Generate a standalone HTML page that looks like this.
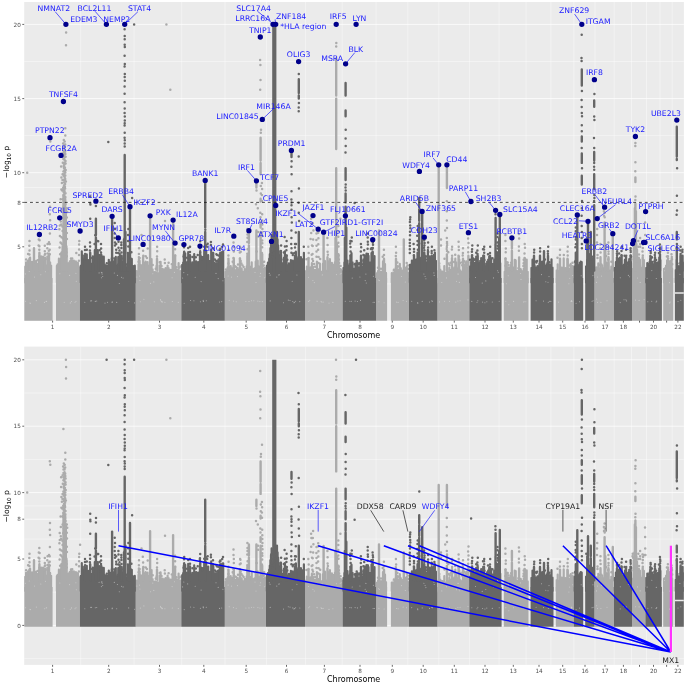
<!DOCTYPE html>
<html><head><meta charset="utf-8"><title>Manhattan plot</title>
<style>
html,body{margin:0;padding:0;background:#fff}
svg{display:block}
text{font-family:"DejaVu Sans","Liberation Sans",sans-serif}
.tk text{font-size:5.7px;fill:#4d4d4d}
.ti{font-size:8px;fill:#000}
.gl text{font-size:7.72px;fill:#1a1aff;text-anchor:middle}
.bl text{font-size:7.72px;text-anchor:middle}
</style></head><body>
<svg width="685" height="685" viewBox="0 0 685 685">
<rect width="685" height="685" fill="#fff"/>
<defs>
<clipPath id="c1"><rect x="24.2" y="2.0" width="659.7" height="318.7"/></clipPath>
<clipPath id="c2"><rect x="24.2" y="346.6" width="659.7" height="318.3"/></clipPath>
</defs>
<rect x="24.2" y="2.0" width="659.7" height="318.7" fill="#ebebeb"/>
<path d="M24.2 283.9H683.9M24.2 224.6H683.9M24.2 187.5H683.9M24.2 135.6H683.9M24.2 61.5H683.9M80.7 2.0V320.7M134.1 2.0V320.7M181.7 2.0V320.7M225 2.0V320.7M266.4 2.0V320.7M305.4 2.0V320.7M342.2 2.0V320.7M376.1 2.0V320.7M407.8 2.0V320.7M438.8 2.0V320.7M469.6 2.0V320.7M499.1 2.0V320.7M526.1 2.0V320.7M550.9 2.0V320.7M573.9 2.0V320.7M595 2.0V320.7M614.2 2.0V320.7M631.5 2.0V320.7M646.5 2.0V320.7M660 2.0V320.7M672.2 2.0V320.7" stroke="#fff" stroke-width=".4" fill="none"/>
<path d="M24.2 246.8H683.9M24.2 202.4H683.9M24.2 172.7H683.9M24.2 98.6H683.9M24.2 24.4H683.9" stroke="#fff" stroke-width=".75" fill="none"/>
<g clip-path="url(#c1)">
<path d="M24.2 322.4V278H52.6V322.4ZM56 322.4V278H79.9V322.4ZM135.7 322.4V278H181.3V322.4ZM224.8 322.4V278H266V322.4ZM305 322.4V278H342.6V322.4ZM376.1 322.4V278H387.1V322.4ZM390.9 322.4V278H409V322.4ZM437.4 322.4V278H469.3V322.4ZM503.8 322.4V278H528.5V322.4ZM555.8 322.4V278H573.8V322.4ZM594.4 322.4V278H614V322.4ZM632 322.4V278H645.4V322.4ZM663.2 322.4V278H673.2V322.4Z" fill="#ababab"/>
<path d="M79.9 322.4V278H135.7V322.4ZM181.3 322.4V278H224.8V322.4ZM266 322.4V278H305V322.4ZM342.6 322.4V278H376.1V322.4ZM409 322.4V278H437.4V322.4ZM469.3 322.4V278H501.6V322.4ZM530.6 322.4V278H553.5V322.4ZM573.8 322.4V278H583.2V322.4ZM585.2 322.4V278H594.4V322.4ZM614 322.4V278H632V322.4ZM645.4 322.4V278H661.9V322.4ZM674.9 322.4V278H683.9V322.4ZM272.2 322.4V24.4H276.4V322.4Z" fill="#666666"/>
<path d="M25.1 282.4V266.7M26.1 282.4V262.3M27.1 282.4V264.7M28.1 282.4V260.6M29.1 282.4V266.2M30.1 282.4V257.5M31.1 282.4V262.7M32.1 282.4V261.8M33.1 282.4V262.7M34.1 282.4V263.8M35.1 282.4V265.8M36.1 282.4V260.9M37.1 282.4V267.3M38.1 282.4V263.5M39.1 282.4V259.6M40.1 282.4V265.7M41.1 282.4V256.4M42.1 282.4V260.3M43.1 282.4V256.5M44.1 282.4V266.6M45.1 282.4V259.4M46.1 282.4V265.4M47.1 282.4V265.6M48.1 282.4V265M49.1 282.4V253.6M50.1 282.4V262.3M51.1 282.4V265.6M56.9 282.4V265.8M57.9 282.4V267.6M58.9 282.4V258.7M59.9 282.4V260.5M60.9 282.4V258.8M61.9 282.4V267M62.9 282.4V264.9M63.9 282.4V265M64.9 282.4V259.5M65.9 282.4V258.9M66.9 282.4V263.1M67.9 282.4V267.1M68.9 282.4V263M69.9 282.4V264.6M70.9 282.4V260.4M71.9 282.4V260.3M72.9 282.4V266.8M73.9 282.4V260.7M74.9 282.4V266.2M75.9 282.4V261.4M76.9 282.4V263.8M77.9 282.4V262.7M78.9 282.4V267M136.6 282.4V271M137.6 282.4V271.5M138.6 282.4V264.5M139.6 282.4V260.9M140.6 282.4V269.5M141.6 282.4V265.6M142.6 282.4V265.5M143.6 282.4V264.9M144.6 282.4V269.7M145.6 282.4V261.5M146.6 282.4V264.8M147.6 282.4V262M148.6 282.4V265.7M149.6 282.4V268.5M150.6 282.4V265.6M151.6 282.4V259.2M152.6 282.4V269.3M153.6 282.4V272M154.6 282.4V272M155.6 282.4V272.3M156.6 282.4V265.9M157.6 282.4V273.1M158.6 282.4V273.5M159.6 282.4V265.5M160.6 282.4V261.8M161.6 282.4V273.1M162.6 282.4V268.9M163.6 282.4V273.2M164.6 282.4V269.4M165.6 282.4V268.2M166.6 282.4V272.3M167.6 282.4V265.5M168.6 282.4V268M169.6 282.4V271M170.6 282.4V269.8M171.6 282.4V270M172.6 282.4V266.3M173.6 282.4V264.8M174.6 282.4V269.5M175.6 282.4V267.6M176.6 282.4V269.9M177.6 282.4V271.7M178.6 282.4V263.2M179.6 282.4V272M180.6 282.4V271M225.7 282.4V271.8M226.7 282.4V270.2M227.7 282.4V267.4M228.7 282.4V266.5M229.7 282.4V274.1M230.7 282.4V266.1M231.7 282.4V272M232.7 282.4V268M233.7 282.4V265.9M234.7 282.4V270.5M235.7 282.4V270.2M236.7 282.4V267.8M237.7 282.4V267.9M238.7 282.4V269.6M239.7 282.4V271.6M240.7 282.4V268.3M241.7 282.4V268.7M242.7 282.4V271.7M243.7 282.4V272.2M244.7 282.4V269.1M245.7 282.4V270.4M246.7 282.4V266.3M247.7 282.4V272.6M248.7 282.4V268.5M249.7 282.4V266.7M250.7 282.4V270.9M251.7 282.4V262.3M252.7 282.4V269.3M253.7 282.4V269.2M254.7 282.4V272.1M255.7 282.4V261.7M256.7 282.4V262.3M257.7 282.4V260.6M258.7 282.4V266.2M259.7 282.4V267.9M260.7 282.4V266.8M261.7 282.4V267M262.7 282.4V271.3M263.7 282.4V268.9M264.7 282.4V267.8M305.9 282.4V271M306.9 282.4V266.5M307.9 282.4V271.5M308.9 282.4V267.5M309.9 282.4V272.8M310.9 282.4V268.4M311.9 282.4V263.2M312.9 282.4V266.5M313.9 282.4V269.9M314.9 282.4V269.9M315.9 282.4V272.8M316.9 282.4V261.6M317.9 282.4V269M318.9 282.4V272.4M319.9 282.4V263.6M320.9 282.4V271.7M321.9 282.4V271.7M322.9 282.4V263.9M323.9 282.4V263.6M324.9 282.4V260.9M325.9 282.4V272.2M326.9 282.4V270.7M327.9 282.4V261.3M328.9 282.4V265.9M329.9 282.4V259.1M330.9 282.4V266.6M331.9 282.4V262.9M332.9 282.4V267.5M333.9 282.4V264.6M334.9 282.4V262.3M335.9 282.4V263M336.9 282.4V269.8M337.9 282.4V269.4M338.9 282.4V265.6M339.9 282.4V268.9M340.9 282.4V269.3M341.9 282.4V271M377 282.4V273.2M378 282.4V271.1M379 282.4V272M380 282.4V275.1M381 282.4V271.6M382 282.4V273.7M383 282.4V261.4M384 282.4V271.9M385 282.4V264.1M386 282.4V272.8M391.8 282.4V273.2M392.8 282.4V273.2M393.8 282.4V269.7M394.8 282.4V270.3M395.8 282.4V268M396.8 282.4V269.9M397.8 282.4V269.5M398.8 282.4V273M399.8 282.4V263.8M400.8 282.4V268.1M401.8 282.4V272.8M402.8 282.4V270.5M403.8 282.4V272.9M404.8 282.4V267.8M405.8 282.4V271.8M406.8 282.4V266.7M407.8 282.4V272.5M438.3 282.4V271M439.3 282.4V265.8M440.3 282.4V269.7M441.3 282.4V271.3M442.3 282.4V271.6M443.3 282.4V272.7M444.3 282.4V266M445.3 282.4V272.8M446.3 282.4V272.9M447.3 282.4V272.2M448.3 282.4V271.7M449.3 282.4V267.8M450.3 282.4V269.9M451.3 282.4V272.3M452.3 282.4V268.4M453.3 282.4V270.9M454.3 282.4V267.3M455.3 282.4V258.7M456.3 282.4V262.4M457.3 282.4V268.3M458.3 282.4V271.2M459.3 282.4V259.6M460.3 282.4V270.4M461.3 282.4V272.5M462.3 282.4V271.5M463.3 282.4V271.8M464.3 282.4V264.8M465.3 282.4V273.8M466.3 282.4V261.3M467.3 282.4V267.5M468.3 282.4V268.3M504.7 282.4V271.8M505.7 282.4V271.6M506.7 282.4V262.1M507.7 282.4V267.6M508.7 282.4V267.3M509.7 282.4V271.2M510.7 282.4V265.1M511.7 282.4V270.1M512.7 282.4V270.2M513.7 282.4V267.4M514.7 282.4V259.8M515.7 282.4V260.4M516.7 282.4V270.9M517.7 282.4V271.8M518.7 282.4V270.7M519.7 282.4V273.7M520.7 282.4V269M521.7 282.4V273.4M522.7 282.4V271.2M523.7 282.4V268.8M524.7 282.4V260.3M525.7 282.4V262.5M526.7 282.4V259.5M527.7 282.4V271.8M556.7 282.4V270.3M557.7 282.4V264.4M558.7 282.4V271.4M559.7 282.4V270.9M560.7 282.4V271.5M561.7 282.4V267.6M562.7 282.4V268.2M563.7 282.4V258.4M564.7 282.4V268.3M565.7 282.4V268.2M566.7 282.4V268.7M567.7 282.4V259.7M568.7 282.4V272.1M569.7 282.4V268.6M570.7 282.4V263.9M571.7 282.4V270.4M572.7 282.4V266M595.3 282.4V270.3M596.3 282.4V267.3M597.3 282.4V267.6M598.3 282.4V263.3M599.3 282.4V268.6M600.3 282.4V268.3M601.3 282.4V269.5M602.3 282.4V265.7M603.3 282.4V268.1M604.3 282.4V270.5M605.3 282.4V262.1M606.3 282.4V262.9M607.3 282.4V271.4M608.3 282.4V262.7M609.3 282.4V272.9M610.3 282.4V270.4M611.3 282.4V266.7M612.3 282.4V270M632.9 282.4V268.8M633.9 282.4V263.4M634.9 282.4V265M635.9 282.4V268.5M636.9 282.4V266.4M637.9 282.4V265M638.9 282.4V257.7M639.9 282.4V259.7M640.9 282.4V267.5M641.9 282.4V268.9M642.9 282.4V265M643.9 282.4V260.1M664.1 282.4V268.8M665.1 282.4V268.1M666.1 282.4V265.5M667.1 282.4V260.4M668.1 282.4V270.1M669.1 282.4V271.4M670.1 282.4V261.2M671.1 282.4V263.4M672.1 282.4V268.7" stroke="#ababab" stroke-width="2.2" stroke-linecap="round" fill="none"/>
<path d="M39.4 270.6V252.8M29.4 270.6V258.7M44.8 270.6V258.7M34 258.7V248.3M34 270.6V258.7M47.5 270.6V257.2M63.5 270.6V195M64.3 270.6V197.2M65.1 270.6V197.8M65.8 270.6V208.7M62.6 270.6V246.8M61.4 270.6V252.8M66.6 270.6V248.3M143.1 270.6V257.2M150.1 225.3V215.9M150.1 229.1V225.3M150.1 270.6V229.1M173.1 233.5V220.2M173.1 270.6V233.5M175.1 270.6V255.7M157 270.6V258.7M139 270.6V258.7M233.8 270.6V258.7M248.9 243V230.7M248.9 249.8V245.4M248.9 270.6V249.8M247.4 270.6V255.7M256.4 187.5V180.7M256.4 243.9V230.5M256.4 270.6V243.9M260.6 160.6V137.8M260.6 174.2V163M260.6 201.6V198.7M260.6 227.6V222.4M260.6 243.7V232M260.6 243.9V243.7M260.6 270.6V243.9M262.2 270.6V254.3M240 270.6V258.7M228.5 270.6V260.2M323.6 246.8V232.2M323.6 270.6V246.8M327.5 270.6V257.2M336.2 95.6V58.5M336.2 112.4V98.6M336.2 130.5V112.4M336.2 149V130.5M336.2 183.9V168.3M336.2 192.6V183.9M336.2 202.4V192.6M336.2 270.6V199.4M335.5 270.6V238M336.9 270.6V243.9M338.4 270.6V254.3M308.5 270.6V258.7M379 242.4V230.5M379 270.6V242.4M403.8 249.8V239.4M403.8 270.6V249.8M396 270.6V258.7M384 270.6V258.7M438.7 270.6V164.1M446.9 188V164.1M446.9 270.6V255.7M458.6 270.6V257.2M468.4 270.6V255.7M452 270.6V258.7M463 270.6V258.7M505.5 270.6V258.7M511.9 248.3V237.8M511.9 252.8V250.7M511.9 270.6V252.8M519.1 270.6V258.7M524.8 270.6V258.7M567.5 270.6V258.7M560 270.6V258.7M604.6 232V222.4M604.6 270.6V232M605.3 270.6V243.9M612.8 242.4V233.5M612.8 270.6V242.4M608.5 270.6V257.2M600.5 270.6V257.2M635.4 182V177.4M635.4 270.6V203.8M634.9 270.6V208.3M635.9 270.6V211.3M634.4 270.6V239.4M636.4 270.6V243.9M633.8 270.6V248.3M637 270.6V249.8M642.7 270.6V257.2M668 270.6V260.2M671.5 270.6V260.2" stroke="#ababab" stroke-width="2.4" stroke-linecap="round" fill="none"/>
<path d="M26.1 259.4h.01M26.9 262.9h.01M28.1 253.9h.01M35.3 261.9h.01M37.7 260.3h.01M39.4 256.6h.01M44.6 259.6h.01M45.1 254h.01M47.3 258.9h.01M48.8 250.7h.01M49 242.3h.01M57.7 264.6h.01M64.7 253.4h.01M69.9 261.4h.01M71 258.4h.01M72.2 258.4h.01M76.3 252.9h.01M78.9 260.7h.01M138.6 261.8h.01M139.6 257.9h.01M140.6 265.2h.01M144.4 262.9h.01M145.7 256.3h.01M146.9 258h.01M147.7 248.4h.01M152.7 264.9h.01M155.8 268.8h.01M159.7 262.3h.01M161.5 266h.01M164.9 263h.01M164.7 259.5h.01M168.6 262.7h.01M171.8 264.2h.01M176.5 267.2h.01M179.3 267.4h.01M180.7 266.6h.01M226 269.4h.01M228.4 263.6h.01M232.7 261.7h.01M233.6 262.6h.01M235 266.3h.01M235.8 266.8h.01M238 264.4h.01M240.6 260.9h.01M240.7 251.8h.01M240.4 247.6h.01M241.4 263.6h.01M242.4 265.3h.01M243.6 266.9h.01M254.6 268.5h.01M256.6 251.4h.01M262.2 267h.01M262.6 262.2h.01M263.7 265.5h.01M264.1 261.8h.01M306.5 259.2h.01M310.5 267.5h.01M312.4 258.9h.01M313 260.9h.01M314.1 264h.01M315.1 266.8h.01M318.4 263.1h.01M320.2 258.9h.01M327.9 254.7h.01M332.5 265h.01M336.3 259.3h.01M339.1 263h.01M338.8 259.5h.01M338.6 255.5h.01M340.6 266.1h.01M378 267.7h.01M378.9 267.9h.01M380.1 272.2h.01M381 268.7h.01M382.7 256.8h.01M396.9 267.7h.01M398 266.6h.01M397.7 266.2h.01M397.4 262.6h.01M404.3 267.4h.01M406.7 263h.01M407.6 265.2h.01M408 269h.01M439.3 263.6h.01M444.5 258.7h.01M447 269.4h.01M448.4 263.5h.01M448.3 252.3h.01M449.7 265.3h.01M450.7 262.8h.01M454.1 261.9h.01M455.2 254.7h.01M458.8 267.4h.01M458.9 256.4h.01M460.3 263h.01M462.2 265.3h.01M462.5 261.9h.01M464.1 261.2h.01M465.5 268.3h.01M465.5 263h.01M467.6 265.1h.01M468.1 262.2h.01M505.5 265.7h.01M507.7 262.4h.01M508.5 265h.01M511.1 262.8h.01M518.4 268.3h.01M520.3 270.1h.01M523.4 266.1h.01M523.6 263.3h.01M523.7 259.8h.01M557.5 257.7h.01M563.8 255h.01M569.2 265.5h.01M572.5 262.8h.01M597.5 258h.01M597.5 255.1h.01M599.6 265h.01M601.4 264.5h.01M606.2 256.1h.01M607 264.8h.01M608.1 259.4h.01M608.3 259.2h.01M611.4 261.7h.01M633.6 259.3h.01M636.7 261.3h.01M637.8 261h.01M639 254.6h.01M666.9 256.5h.01M672.2 264.2h.01M672 259.3h.01M27.2 172.7h.01M65.9 24.4h.01M66.1 32.4h.01M66 45.2h.01M39.3 234.5h.01M39.6 240.2h.01M39.4 246.3h.01M39.3 249.7h.01M38.8 239.4h.01M38.6 245.4h.01M29.5 240.9h.01M29.3 245.7h.01M29.5 250.5h.01M29.4 254.5h.01M44.8 245.8h.01M44.8 251.2h.01M44.8 254.8h.01M44.9 257.8h.01M47.6 243.9h.01M47.3 248.2h.01M47.6 253.5h.01M47.6 256.6h.01M49.8 137.7h.01M50.3 141.6h.01M50 206.8h.01M49.8 214.2h.01M50.1 220.2h.01M49.9 233.5h.01M49.7 243.9h.01M49.7 249.8h.01M49.8 254.3h.01M63.4 101.5h.01M65.3 128.2h.01M65.3 135.6h.01M63.8 140.1h.01M63.1 143.5h.01M63.5 146.9h.01M63.5 150.8h.01M63.6 152.5h.01M63.6 155.7h.01M63.4 159h.01M63.8 163.2h.01M63.8 165.5h.01M64 168h.01M63.4 171.6h.01M63.7 175.8h.01M63.9 179.8h.01M64 182.2h.01M64 185.5h.01M63.2 187.4h.01M63.3 189.5h.01M63.7 192.3h.01M63.6 195.4h.01M62.9 199.6h.01M64.4 203.2h.01M63.7 206.8h.01M64.2 210.7h.01M63.7 212.9h.01M63.9 217h.01M64.7 141.6h.01M64.5 145.1h.01M64.3 146.6h.01M64.5 150h.01M65 152.9h.01M64.1 155.3h.01M64.3 157.7h.01M64.5 159.8h.01M64.6 162.6h.01M64.5 164.6h.01M63.8 166.8h.01M64.6 169.6h.01M64.1 171.1h.01M64.4 173.9h.01M64.7 177.5h.01M64.6 180h.01M64.9 181.5h.01M64.5 185h.01M64.9 186.7h.01M64.2 189.8h.01M64.6 191.3h.01M64.4 193.6h.01M64.4 195.2h.01M64.8 197.5h.01M65.1 200.9h.01M65.5 204.3h.01M64.6 207.1h.01M63.7 210h.01M64.6 212h.01M64.1 215.1h.01M65.2 144.5h.01M64.5 146.9h.01M65.2 151.3h.01M65.3 154.1h.01M65.6 156.8h.01M65.5 161h.01M65.6 163.5h.01M64.9 167.5h.01M65.7 169.9h.01M65.3 172.5h.01M65.3 175.5h.01M65.2 179.1h.01M65.9 181.5h.01M65.1 184.1h.01M65.1 188.6h.01M65.5 193.3h.01M65.3 197h.01M65 199.9h.01M65.4 204.1h.01M65.1 207.3h.01M65.6 211h.01M64.9 213.6h.01M65.3 216.1h.01M62.6 153.4h.01M62.8 162.7h.01M62.6 174.3h.01M62.5 180h.01M62.2 190.5h.01M62.8 199.2h.01M62.6 208.2h.01M63.1 218h.01M62.4 226.5h.01M62.6 231.1h.01M62.8 238.2h.01M62.4 244.5h.01M61.1 155.5h.01M61.1 166.4h.01M61.4 177.5h.01M61.9 182.9h.01M61.4 189.6h.01M60.6 199.3h.01M60.8 211.1h.01M61.2 224.6h.01M61.5 237.3h.01M61.3 243.2h.01M61.5 254h.01M59.7 217.8h.01M60.8 221.5h.01M59.8 225.5h.01M59.4 229.2h.01M59.9 236.1h.01M60.5 242.5h.01M59.6 247.6h.01M60.1 254.3h.01M66.8 208.3h.01M67.2 212h.01M66.8 217.5h.01M67 224h.01M66.8 233.1h.01M66.9 238.9h.01M66.4 246.5h.01M66.4 252.6h.01M66.8 256.3h.01M80.1 231h.01M79.3 240.9h.01M79.1 244.5h.01M79.1 249.4h.01M79 255h.01M142.8 244.3h.01M143.1 250.7h.01M143.3 255.7h.01M141.5 235h.01M165 220.9h.01M166.4 24.4h.01M170.3 89.7h.01M175.1 243.1h.01M175.1 249.3h.01M175.2 255.5h.01M157.1 246.8h.01M157.2 251.3h.01M157 256.5h.01M139 248.3h.01M138.9 253.9h.01M138.9 257.3h.01M233.5 236.2h.01M233.5 242.4h.01M233.8 247h.01M233.8 251.4h.01M233.5 257.9h.01M247.4 229.1h.01M247.5 234.4h.01M247.5 237.8h.01M247.3 241.9h.01M247.6 249.3h.01M247.3 253.8h.01M256 204.3h.01M256.5 190.5h.01M257.8 208.3h.01M258 232h.01M258.1 236.5h.01M260.2 37h.01M260.1 60h.01M260.4 65h.01M260.5 80h.01M260.2 89.7h.01M262 119.3h.01M261 129.7h.01M260.8 132.7h.01M260.8 186h.01M260.8 193.5h.01M260.3 212.7h.01M260.5 217.2h.01M261.9 183.1h.01M262.1 189h.01M261.9 194.9h.01M262 200.9h.01M262.2 214.2h.01M262.3 220.4h.01M262.3 224.4h.01M262.4 229h.01M262.1 232.4h.01M262.5 236h.01M262.2 240.4h.01M262.3 243.2h.01M262.2 247.3h.01M261.9 253.1h.01M240.1 246.8h.01M239.8 252.6h.01M239.9 258.4h.01M228.6 249.8h.01M228.4 255.4h.01M228.4 258.8h.01M313.1 215.7h.01M312.8 223.3h.01M313.4 230.5h.01M313.1 239.5h.01M312.7 246h.01M312.5 253.9h.01M311.1 218.7h.01M311.4 223.5h.01M311.2 233.1h.01M310.6 239h.01M312 245.5h.01M311.7 254.8h.01M318.2 229.2h.01M318.2 232.7h.01M318.4 238.2h.01M318.3 244.2h.01M318.1 249.8h.01M318.6 257.1h.01M316.5 233.5h.01M316.4 240.1h.01M316.5 245.7h.01M316.5 251.4h.01M316.5 256.8h.01M327.4 238h.01M327.6 245h.01M327.6 251.7h.01M336 24.4h.01M336.3 42.9h.01M336.2 46.6h.01M340.4 218.7h.01M338.3 226.1h.01M338.3 231.2h.01M338.3 236.8h.01M338.3 242.8h.01M338.5 246.6h.01M308.3 246.8h.01M308.7 253.1h.01M308.5 258.1h.01M395.9 246.8h.01M396.1 252.8h.01M395.8 256h.01M383.9 249.8h.01M384 255h.01M446.8 201.2h.01M446.8 211.3h.01M446.8 220.6h.01M447 227.9h.01M446.8 238h.01M447 241.9h.01M447 243.6h.01M447.1 245.3h.01M446.8 247.1h.01M446.7 249.1h.01M447 251h.01M446.9 254.5h.01M445.2 230.5h.01M441 239.4h.01M441 245.4h.01M458.6 241.7h.01M458.7 246.8h.01M458.8 250h.01M458.5 255.7h.01M468.5 232.8h.01M468.1 238.4h.01M468.5 242.9h.01M468.2 247.5h.01M468.2 252.2h.01M452.1 246.8h.01M451.9 249.6h.01M452.1 255.8h.01M452 258.3h.01M463 248.3h.01M462.9 253h.01M462.7 255.5h.01M505.4 235h.01M505.4 241.1h.01M505.8 248.4h.01M505.7 252.2h.01M505.5 258.6h.01M518.9 233.9h.01M519.1 238.5h.01M518.9 246.6h.01M518.9 250.7h.01M519.1 257.6h.01M524.7 243.9h.01M525 247.8h.01M524.5 253.5h.01M524.6 258.1h.01M567.8 246.8h.01M567.5 251.5h.01M567.7 255.4h.01M560 249.8h.01M559.9 255.1h.01M597.2 218.7h.01M597.2 229.1h.01M597 235h.01M597 242.4h.01M604.6 207.3h.01M604.7 212.7h.01M604.7 217.2h.01M603.9 211.3h.01M604 215.7h.01M608.4 242.4h.01M608.5 247h.01M608.5 251.4h.01M608.5 254h.01M600.5 243.9h.01M600.3 248.5h.01M600.6 252.6h.01M635.6 136.5h.01M635.4 143h.01M635.3 146h.01M635.4 162.3h.01M635.3 171.2h.01M635.5 196.4h.01M635.3 200.1h.01M632.7 240.9h.01M633 245.4h.01M632.5 243.9h.01M645 211.6h.01M645.1 222.4h.01M645.2 235h.01M645.4 242.4h.01M642.5 241.7h.01M643 244.6h.01M642.8 247.9h.01M642.5 251.4h.01M642.8 255.5h.01M644 242.4h.01M640.1 238h.01M640.1 243.9h.01M640.2 246.8h.01M638.3 240.9h.01M638.3 246.8h.01M667.9 252.8h.01M667.9 256.3h.01M668.1 258.5h.01M671.5 254.3h.01M671.8 256.9h.01M671.7 258.5h.01" stroke="#ababab" stroke-width="2.5" stroke-linecap="round" fill="none"/>
<path d="M80.8 282.4V265.7M81.8 282.4V251.3M82.8 282.4V255.3M83.8 282.4V259.3M84.8 282.4V265.7M85.8 282.4V266.2M86.8 282.4V254.4M87.8 282.4V262.4M88.8 282.4V260M89.8 282.4V265.3M90.8 282.4V265.2M91.8 282.4V263.5M92.8 282.4V256.4M93.8 282.4V265.6M94.8 282.4V250.2M95.8 282.4V260M96.8 282.4V250.2M97.8 282.4V250.2M98.8 282.4V261.4M99.8 282.4V254.8M100.8 282.4V265.4M101.8 282.4V256.2M102.8 282.4V258.2M103.8 282.4V256.7M104.8 282.4V264.7M105.8 282.4V265.7M106.8 282.4V265.7M107.8 282.4V266M108.8 282.4V259.8M109.8 282.4V262M110.8 282.4V264.8M111.8 282.4V258.2M112.8 282.4V262.7M113.8 282.4V261.4M114.8 282.4V258.2M115.8 282.4V256.9M116.8 282.4V266.2M117.8 282.4V267.4M118.8 282.4V256.8M119.8 282.4V253.7M120.8 282.4V255.9M121.8 282.4V264.2M122.8 282.4V261.8M123.8 282.4V265.1M124.8 282.4V252.8M125.8 282.4V266.3M126.8 282.4V267.9M127.8 282.4V267.8M128.8 282.4V259.7M129.8 282.4V266.4M130.8 282.4V267.2M131.8 282.4V258.9M132.8 282.4V265.9M133.8 282.4V268.6M134.8 282.4V265.7M182.2 282.4V264.9M183.2 282.4V262.7M184.2 282.4V251.6M185.2 282.4V253.3M186.2 282.4V262.8M187.2 282.4V262M188.2 282.4V252.2M189.2 282.4V262.6M190.2 282.4V266.3M191.2 282.4V264.4M192.2 282.4V262.3M193.2 282.4V265M194.2 282.4V254M195.2 282.4V264.6M196.2 282.4V261.4M197.2 282.4V264.6M198.2 282.4V262.1M199.2 282.4V264M200.2 282.4V251.1M201.2 282.4V256.4M202.2 282.4V264.1M203.2 282.4V256.8M204.2 282.4V250.2M205.2 282.4V265.3M206.2 282.4V250.6M207.2 282.4V257.9M208.2 282.4V255.2M209.2 282.4V260.9M210.2 282.4V264.3M211.2 282.4V249.5M212.2 282.4V262.2M213.2 282.4V252.8M214.2 282.4V262.8M215.2 282.4V264.4M216.2 282.4V263M217.2 282.4V265.1M218.2 282.4V261.5M219.2 282.4V261.2M220.2 282.4V252.7M221.2 282.4V266.4M222.2 282.4V251.8M223.2 282.4V251.6M266.9 282.4V265.7M267.9 282.4V262.7M268.9 282.4V267.2M269.9 282.4V262.8M270.9 282.4V259.3M271.9 282.4V262.1M272.9 282.4V252.8M273.9 282.4V262M274.9 282.4V252M275.9 282.4V266.7M276.9 282.4V258M277.9 282.4V260.9M278.9 282.4V255M279.9 282.4V259.5M280.9 282.4V251.2M281.9 282.4V263.2M282.9 282.4V266M283.9 282.4V257.7M284.9 282.4V251.3M285.9 282.4V256.6M286.9 282.4V266.5M287.9 282.4V265.2M288.9 282.4V263.3M289.9 282.4V263.6M290.9 282.4V260M291.9 282.4V268.1M292.9 282.4V260.6M293.9 282.4V267.5M294.9 282.4V266.9M295.9 282.4V251.7M296.9 282.4V259.8M297.9 282.4V265.3M298.9 282.4V264.7M299.9 282.4V262.2M300.9 282.4V257.1M301.9 282.4V261.7M302.9 282.4V259.2M303.9 282.4V252.8M343.5 282.4V267.9M344.5 282.4V262.5M345.5 282.4V263M346.5 282.4V263.3M347.5 282.4V260.5M348.5 282.4V265.6M349.5 282.4V267.3M350.5 282.4V260M351.5 282.4V253.2M352.5 282.4V262.3M353.5 282.4V269.3M354.5 282.4V268.6M355.5 282.4V263.4M356.5 282.4V263.3M357.5 282.4V262.7M358.5 282.4V267.6M359.5 282.4V267.3M360.5 282.4V264.4M361.5 282.4V266.9M362.5 282.4V268.1M363.5 282.4V259.3M364.5 282.4V255.4M365.5 282.4V264.3M366.5 282.4V253.5M367.5 282.4V261.5M368.5 282.4V255.8M369.5 282.4V266M370.5 282.4V262.4M371.5 282.4V253.1M372.5 282.4V259M373.5 282.4V259.9M374.5 282.4V256M409.9 282.4V264.9M410.9 282.4V264.5M411.9 282.4V260.6M412.9 282.4V264.2M413.9 282.4V259.4M414.9 282.4V263.1M415.9 282.4V259.5M416.9 282.4V259.4M417.9 282.4V257.9M418.9 282.4V250.7M419.9 282.4V257.5M420.9 282.4V259.6M421.9 282.4V262.8M422.9 282.4V253.7M423.9 282.4V254.2M424.9 282.4V255.5M425.9 282.4V262.1M426.9 282.4V262.2M427.9 282.4V249.9M428.9 282.4V259.6M429.9 282.4V256.4M430.9 282.4V257.7M431.9 282.4V261.3M432.9 282.4V266.5M433.9 282.4V254.9M434.9 282.4V252.6M435.9 282.4V260.8M470.2 282.4V266.4M471.2 282.4V261.8M472.2 282.4V265.7M473.2 282.4V258.3M474.2 282.4V264.3M475.2 282.4V262.8M476.2 282.4V256.6M477.2 282.4V261.3M478.2 282.4V265.2M479.2 282.4V263M480.2 282.4V260.8M481.2 282.4V258.2M482.2 282.4V265.6M483.2 282.4V255.6M484.2 282.4V266.1M485.2 282.4V267.1M486.2 282.4V263.5M487.2 282.4V261.6M488.2 282.4V259.5M489.2 282.4V256.5M490.2 282.4V259.8M491.2 282.4V258.3M492.2 282.4V263.9M493.2 282.4V265M494.2 282.4V259.7M495.2 282.4V259.9M496.2 282.4V255.2M497.2 282.4V259.8M498.2 282.4V263.5M499.2 282.4V258.7M500.2 282.4V263.2M531.5 282.4V267.9M532.5 282.4V259.7M533.5 282.4V265.4M534.5 282.4V265.3M535.5 282.4V267.3M536.5 282.4V268.3M537.5 282.4V266.1M538.5 282.4V266M539.5 282.4V263.7M540.5 282.4V261.6M541.5 282.4V268.2M542.5 282.4V261.6M543.5 282.4V265.4M544.5 282.4V266.3M545.5 282.4V265.8M546.5 282.4V264.3M547.5 282.4V262.7M548.5 282.4V267.1M549.5 282.4V265M550.5 282.4V264.7M551.5 282.4V259.3M552.5 282.4V267.6M574.7 282.4V266.4M575.7 282.4V260.7M576.7 282.4V265.2M577.7 282.4V265.5M578.7 282.4V265M579.7 282.4V262.9M580.7 282.4V261.6M581.7 282.4V262M586.1 282.4V266.4M587.1 282.4V260M588.1 282.4V261.9M589.1 282.4V254.1M590.1 282.4V265.2M591.1 282.4V266.6M592.1 282.4V258.9M593.1 282.4V262.2M614.9 282.4V267.9M615.9 282.4V262.1M616.9 282.4V262.8M617.9 282.4V259.7M618.9 282.4V258.6M619.9 282.4V257.7M620.9 282.4V263.6M621.9 282.4V265.7M622.9 282.4V266.9M623.9 282.4V264.5M624.9 282.4V259.9M625.9 282.4V265.6M626.9 282.4V266.2M627.9 282.4V266.2M628.9 282.4V261.2M629.9 282.4V263.8M630.9 282.4V262.1M646.3 282.4V267.9M647.3 282.4V263M648.3 282.4V266.4M649.3 282.4V265.8M650.3 282.4V259.3M651.3 282.4V263.3M652.3 282.4V261.9M653.3 282.4V264M654.3 282.4V265M655.3 282.4V262.8M656.3 282.4V263M657.3 282.4V262.7M658.3 282.4V266.1M659.3 282.4V257.5M660.3 282.4V260.1M675.8 282.4V270.1M676.8 282.4V259.8M677.8 282.4V266.1M678.8 282.4V269.4M679.8 282.4V266.7M680.8 282.4V265.1M681.8 282.4V266.7M682.8 282.4V262.6" stroke="#666666" stroke-width="2.2" stroke-linecap="round" fill="none"/>
<path d="M90.2 270.6V252.8M95.9 235.1V218.7M95.9 243.9V237.5M95.9 270.6V243.9M112.1 227.6V216.3M112.1 270.6V227.6M118.4 270.6V257.2M124.7 163.9V154.9M124.7 166.8V163.9M124.7 270.6V165.3M125.4 270.6V232M124 270.6V239.4M130 217.2V206.5M130 270.6V217.2M128.2 270.6V254.3M101 270.6V255.7M85 270.6V257.2M121.5 270.6V255.7M183.9 270.6V254.3M200 270.6V254.3M205.2 227.6V180.7M205.2 270.6V232M190 270.6V255.7M213 270.6V255.7M220 270.6V257.2M271.7 272.1V235M276.9 272.1V232M271.1 272.1V242.4M277.5 272.1V239.4M270.5 272.1V248.3M278.1 272.1V245.4M269.9 272.1V254.3M278.7 272.1V251.3M269.3 272.1V258.7M279.3 272.1V257.2M291.5 157.1V149.7M298.8 93.1V79.3M298.8 98.6V95.4M298.8 252.8V232M298.8 270.6V252.8M286.5 270.6V255.7M281 270.6V255.7M295 270.6V255.7M345.6 95.6V83M345.6 116.3V110.4M345.6 180.1V168.3M345.6 202.4V193.5M345.6 215.2V206.8M345.6 220.2V217.5M345.6 270.6V217.2M346.3 270.6V227.6M344.9 270.6V238M367.8 270.6V254.3M372.7 270.6V252.8M350.5 270.6V255.7M361 270.6V255.7M419.2 206.9V197.9M419.2 220.8V209.3M419.2 224.6V223.2M419.2 270.6V224.6M422.2 221.3V211.4M422.2 235V221.3M422.2 270.6V235M424.3 270.6V252.8M417.6 270.6V252.8M431.8 270.6V255.7M428 270.6V255.7M414 270.6V255.7M472 270.6V255.7M477.7 270.6V255.7M484 270.6V255.7M490 270.6V255.7M495.6 235.7V217.9M495.6 243.9V235.7M495.5 246.8V243.9M495.5 270.6V246.8M499.8 231.6V214.5M499.8 232V231.6M499.8 270.6V232M499.2 270.6V238M497.5 270.6V252.8M540 270.6V255.7M548 270.6V255.7M534 270.6V255.7M544 255.7V251.3M544 270.6V255.7M577.3 227.6V214.8M577.3 270.6V227.6M575.8 270.6V252.8M581.8 77.2V69.5M581.8 85.6V77.2M581.8 141.6V136.5M581.8 162.9V153.4M581.8 184.6V175.7M588 238V221.3M588 270.6V238M587.3 270.6V243.9M594.2 106.7V100.5M594.2 160.5V151.9M594.2 163.1V162.8M594.2 189V174.2M594.2 223.3V205.3M594.2 232V223.3M594.2 270.6V229.1M590.8 243.5V232M590.8 249.8V245.8M590.8 270.6V249.8M621.6 270.6V255.7M630.6 270.6V255.7M617 270.6V257.2M626 270.6V257.2M660 270.6V254.3M655 270.6V257.2M650.5 270.6V257.2M676.8 134.4V126.7M676.8 156.5V134.4M676.8 160.1V158.9M676.8 239.4V232M676.8 254.3V246.8M676.8 270.6V254.3M680.5 270.6V255.7M682.6 270.6V255.7" stroke="#666666" stroke-width="2.4" stroke-linecap="round" fill="none"/>
<path d="M84.7 259.7h.01M86.8 249.7h.01M90.8 257.9h.01M94.3 263.1h.01M94.6 244h.01M95.2 235.2h.01M97.1 241.1h.01M98.2 241.2h.01M99.6 250.2h.01M100.5 260.9h.01M106.8 263.3h.01M112.6 258.3h.01M117.8 264.7h.01M119.5 250.5h.01M121.7 258.4h.01M125.1 245.5h.01M124.7 238.5h.01M126.6 264.4h.01M130.7 261.4h.01M130.7 258.7h.01M131.4 252.2h.01M183.6 256.6h.01M187.1 257.8h.01M188.2 248h.01M190 263.9h.01M192.4 257.1h.01M195.8 257.3h.01M197.7 255h.01M199.8 246.7h.01M200.2 241.2h.01M202.2 259.1h.01M204.2 246.7h.01M205.7 244.9h.01M207.2 246.7h.01M207.7 243.8h.01M210.9 242.1h.01M210.9 244.9h.01M214.9 259.6h.01M216 260.8h.01M216.4 254.2h.01M217.4 260.7h.01M217.2 255.1h.01M218.6 259.6h.01M219.2 255.8h.01M220.4 249h.01M220.3 248.7h.01M222.2 246.8h.01M223 244.5h.01M272.4 256.4h.01M273.9 258h.01M274.9 246h.01M281.4 259.6h.01M283.8 252.6h.01M284.9 246.6h.01M284.6 236.9h.01M287.3 259.7h.01M293.1 253.4h.01M292.8 254.9h.01M296 243.9h.01M295.8 232.6h.01M296.6 257.2h.01M297.6 258.8h.01M345.2 256.7h.01M349.6 264.3h.01M351.6 241.3h.01M351.8 237.5h.01M354.5 264.2h.01M356.7 260.9h.01M359 264.1h.01M359.3 263.2h.01M361.5 260.8h.01M363.1 264.2h.01M363.4 255h.01M364.2 250.2h.01M370.9 249.1h.01M371.4 248.3h.01M372.5 252.5h.01M372.5 252.3h.01M372.4 249h.01M419.2 243.5h.01M418.9 242.8h.01M427.1 259.4h.01M426.8 256.4h.01M434.4 250.3h.01M470 259.8h.01M472 259.1h.01M474.2 259.8h.01M475.5 259.2h.01M476.2 252.7h.01M483 249.3h.01M484.4 260h.01M488 254.2h.01M492.5 258.2h.01M496.4 251.9h.01M497.5 256.5h.01M498.6 257.4h.01M497.8 258.5h.01M499 251.8h.01M534.7 261.3h.01M536.4 262.6h.01M537.1 261h.01M544.9 259.6h.01M548.4 263.8h.01M549.4 262.2h.01M575 261.7h.01M590 259.7h.01M592.3 256.8h.01M619.1 253.4h.01M624.6 255.7h.01M627 264.4h.01M627.8 262.7h.01M629.3 259.3h.01M631.1 256.8h.01M648.2 264.2h.01M649.6 262.2h.01M651.5 258.1h.01M651.9 257.3h.01M654.3 261.5h.01M656.1 260h.01M658.6 262.6h.01M658.9 252.9h.01M677.4 263.6h.01M678.8 266.6h.01M680.6 263.1h.01M90.2 196.4h.01M90.3 203.1h.01M90.4 204.6h.01M90.2 218.7h.01M90 242.4h.01M90.1 246.6h.01M89.9 250.5h.01M96 201.2h.01M95.9 206.1h.01M106.6 24.4h.01M108.3 142h.01M118.4 238h.01M118.5 241.8h.01M118.5 247.7h.01M118.3 253.1h.01M116.2 243.9h.01M116.2 249.8h.01M116.2 252.8h.01M114.7 223.1h.01M115 229.1h.01M114.7 233.5h.01M114.7 238h.01M115 242.4h.01M115 245.4h.01M124.7 24.4h.01M124.6 29.3h.01M124.7 36h.01M124.7 39.2h.01M124.7 44.7h.01M124.8 47.1h.01M124.6 55.8h.01M124.8 64h.01M124.6 66.5h.01M124.8 73.9h.01M124.7 76.9h.01M124.8 80.8h.01M124.6 86.4h.01M124.6 93.8h.01M124.6 102.3h.01M124.7 108.5h.01M124.6 112.9h.01M124.8 116.6h.01M124.8 120.4h.01M124.7 123.3h.01M124.6 125.4h.01M124.7 132.8h.01M124.6 137.7h.01M124.8 140.2h.01M124.7 143.5h.01M124.7 146.5h.01M132.1 197.9h.01M134.1 24.4h.01M128.4 229.1h.01M128.1 234.9h.01M128.1 241h.01M128.3 246.6h.01M127.9 253h.01M101 243.9h.01M101.1 248.4h.01M101 252.5h.01M101.2 254.7h.01M85 246.8h.01M85 250.1h.01M85.1 253.9h.01M85 255.9h.01M121.3 242.4h.01M121.3 245h.01M121.4 248h.01M121.5 252.4h.01M184.2 244.6h.01M184 247.2h.01M184.1 252.3h.01M200 246.1h.01M200 248.2h.01M200.1 252.6h.01M205.3 229.8h.01M190 246.8h.01M190 252.1h.01M189.9 255.2h.01M213 248.3h.01M213 253.8h.01M219.7 249.8h.01M219.8 254.5h.01M271.6 241.4h.01M271.5 246.8h.01M271.6 251.3h.01M291.6 161.3h.01M291.4 166.8h.01M291.6 174.2h.01M291.5 191.2h.01M291.4 199.4h.01M291.5 202.4h.01M291.5 205.3h.01M291.5 209.8h.01M291.6 217.2h.01M291.8 222.4h.01M291.4 230.5h.01M291.4 238h.01M291.2 243.9h.01M291.5 248.3h.01M291.4 252.8h.01M298.5 61.5h.01M298.8 74.1h.01M298.9 103h.01M298.7 107.4h.01M298.7 111.2h.01M298.7 156.4h.01M298.9 188.6h.01M298.6 202.7h.01M298.8 212.7h.01M299.1 220.9h.01M303.8 246.8h.01M286.6 240.9h.01M286.7 246.2h.01M286.4 250.3h.01M286.7 255.6h.01M281.1 245.4h.01M280.8 251.1h.01M281 255.1h.01M295 243.9h.01M295 247.5h.01M294.7 253.1h.01M345.4 63.7h.01M345.7 129.7h.01M345.6 138.6h.01M345.7 146h.01M345.5 152.5h.01M345.7 184.6h.01M345.5 187.5h.01M345.7 190.5h.01M354.6 203h.01M356 24.4h.01M367.7 233.5h.01M367.7 237.4h.01M367.8 241.7h.01M367.9 244.4h.01M367.6 248.8h.01M367.8 254h.01M372.6 239.7h.01M372.8 242.6h.01M373 244.8h.01M372.8 248h.01M372.6 251.7h.01M350.4 240.9h.01M350.1 243.4h.01M350.5 246.9h.01M350.6 251.4h.01M350.6 255.5h.01M360.9 243.9h.01M361.2 247.3h.01M360.8 251.4h.01M410.3 217.2h.01M410.1 219.4h.01M409.9 222.1h.01M410.2 225.6h.01M410.3 228.3h.01M410 231.7h.01M410 235.3h.01M409.8 239.8h.01M409.8 243.1h.01M409.8 246.1h.01M409.8 249.3h.01M409.8 252.9h.01M419.3 171.4h.01M424.1 237.2h.01M424.2 240.2h.01M424.6 243h.01M424.4 245.5h.01M424 247.8h.01M424.4 250.3h.01M417.7 226.1h.01M417.5 230h.01M417.2 235.7h.01M417.5 240.9h.01M417.6 244.9h.01M417.9 249.7h.01M431.9 246.8h.01M431.7 251.1h.01M431.7 252.9h.01M428.1 242.4h.01M428.1 247.4h.01M428.2 252.1h.01M413.6 243.9h.01M414 249h.01M414 251.7h.01M413.9 255.2h.01M471.1 201.5h.01M472.3 245.4h.01M472.1 249.2h.01M471.9 251.7h.01M472.1 255.2h.01M477.8 245.4h.01M477.4 250.6h.01M477.5 253.9h.01M484.2 246.8h.01M484 249.4h.01M484.2 252.7h.01M490.2 246.8h.01M490 252.9h.01M495.4 210.4h.01M495.5 214.2h.01M497.5 233.5h.01M497.4 237h.01M497.5 242.5h.01M497.6 245.7h.01M497.5 248.6h.01M540.1 248.3h.01M540.1 251.5h.01M548.2 246.8h.01M547.9 251.3h.01M547.9 253.8h.01M534.2 249.8h.01M534.1 252.6h.01M575.8 227.6h.01M575.8 231.3h.01M575.7 236.9h.01M575.8 239.5h.01M575.9 244.3h.01M575.4 247.3h.01M581.9 24.4h.01M581.7 34.8h.01M581.5 58.1h.01M581.6 61h.01M581.9 91.1h.01M581.6 100h.01M581.7 107h.01M581.8 113.1h.01M582 116.3h.01M581.8 125.2h.01M581.8 131.2h.01M581.7 147.9h.01M582 168.3h.01M582 200.9h.01M581.8 208.3h.01M581.6 215.7h.01M581.7 226.1h.01M581.9 232h.01M581.7 238h.01M581.9 243.9h.01M581.9 248.3h.01M586.3 240.9h.01M594.4 79.7h.01M594.4 94.1h.01M594.2 116.6h.01M594.4 120.1h.01M594 138h.01M594.2 147.9h.01M594.1 166.8h.01M594.2 169.7h.01M594.3 194.9h.01M594.4 197.9h.01M594.1 200.9h.01M621.9 246.8h.01M621.5 250.9h.01M621.5 255.2h.01M630.6 248.3h.01M630.6 250.2h.01M630.7 252.1h.01M630.7 255.6h.01M617.1 251.3h.01M616.9 253.6h.01M617.1 255.3h.01M626.1 249.8h.01M626.2 255.7h.01M659.9 244.6h.01M660.1 247.4h.01M660.3 249.1h.01M660.1 251.7h.01M655.1 252.8h.01M654.8 254.9h.01M650.6 251.3h.01M650.7 253h.01M650.4 255.9h.01M676.9 120.1h.01M677.1 168.3h.01M676.9 195.7h.01M677 210.4h.01M676.6 214.8h.01M676.9 243.9h.01M676.8 248.3h.01M680.6 246.8h.01M680.3 250.6h.01M680.6 254.1h.01M682.5 249.8h.01M682.4 251.9h.01" stroke="#666666" stroke-width="2.5" stroke-linecap="round" fill="none"/>
<path d="M40.8 274.8h.01M34.6 277h.01M45.4 271.8h.01M29.2 271.5h.01M25.3 273.9h.01M46.6 301.2h.01M36.3 300.6h.01M25.6 301.3h.01M46.1 301.5h.01M44.4 302.4h.01M30.4 303.3h.01M29.9 303h.01M75.9 273.3h.01M59.8 273.7h.01M76.3 281.3h.01M69.6 275.4h.01M70.3 302.9h.01M71.5 301.5h.01M75 302.3h.01M64.2 302.3h.01M76 301.3h.01M114.3 273h.01M117.4 275.4h.01M102.7 276.5h.01M102.2 274h.01M101.4 277.7h.01M121.5 277.2h.01M99.1 272.9h.01M101.4 272.7h.01M123.1 278h.01M119.3 283.5h.01M101.9 272.4h.01M112.1 302.4h.01M116.7 302.4h.01M112.3 302.1h.01M90.8 300.9h.01M96.7 301h.01M134.6 302.9h.01M105 303.1h.01M112.2 301.7h.01M128.7 301.5h.01M95.3 301.4h.01M107.5 302.3h.01M84.8 302.3h.01M91.6 300.8h.01M139.6 276h.01M174.4 272.4h.01M136.9 277h.01M152.8 273.8h.01M139.9 280.4h.01M172.1 277.7h.01M156.5 271h.01M150.6 283.4h.01M153.8 281.9h.01M140.3 301.7h.01M178.3 302.2h.01M164.9 302.3h.01M161.6 301.4h.01M162.4 301.7h.01M160.7 300.8h.01M162.1 302.3h.01M143.9 299.2h.01M172.3 301.5h.01M160.5 299.6h.01M154.3 301.8h.01M187.7 274.7h.01M216 273.4h.01M201.1 281.6h.01M183.8 272.6h.01M222.9 280.7h.01M218.2 278.6h.01M195.2 277.2h.01M182.6 278h.01M190.6 300.5h.01M203.2 300.2h.01M219.5 302h.01M193.9 300.8h.01M203.2 301h.01M184.2 303.3h.01M206.3 300.8h.01M203.5 301.4h.01M200.4 301.8h.01M221.7 301.6h.01M231.6 277.1h.01M237.4 276.6h.01M255 272.5h.01M228.1 276h.01M264.4 277.8h.01M256 282.6h.01M260 276.2h.01M260.6 273.4h.01M259.9 301.6h.01M253.8 300.8h.01M236.2 301.8h.01M249 301.5h.01M262.3 301.6h.01M233.4 301.1h.01M257.9 301.1h.01M245.9 301.5h.01M251.5 300.7h.01M229.2 300.2h.01M279.1 274.5h.01M276.8 277.1h.01M292.2 281.2h.01M269.3 273.4h.01M296.9 275h.01M278.9 275.1h.01M270.1 275.1h.01M288.3 300.1h.01M283.5 302.7h.01M293.9 302.7h.01M294.6 302.2h.01M270.2 300.9h.01M290 300.5h.01M299.8 301.6h.01M295.6 301.3h.01M292.8 301.5h.01M322.3 274.9h.01M341.2 273.3h.01M308.5 277.3h.01M314.3 282.6h.01M312.9 280.6h.01M340.2 274h.01M336.4 274.6h.01M317.2 301.3h.01M321.7 302h.01M321 301.2h.01M308.7 301.4h.01M323.1 302.1h.01M329 303.1h.01M309.7 300.2h.01M317 301h.01M332.9 302.4h.01M365.2 280.6h.01M365.9 274.1h.01M366.3 283h.01M373.4 276.2h.01M352.2 278.1h.01M359.9 277h.01M351.4 301.3h.01M355.1 301.1h.01M357.4 301.5h.01M349.9 301.2h.01M374.4 302.2h.01M360.5 300.4h.01M345.3 301.3h.01M373.1 302.2h.01M378.5 280h.01M379.5 280.6h.01M384.1 302.7h.01M378.9 301.8h.01M393.4 271.5h.01M405.3 282h.01M401.4 276.5h.01M403.1 300.5h.01M398.1 302.4h.01M396.6 302.1h.01M406.5 301.3h.01M423.9 274h.01M434.2 275.4h.01M425.9 278.7h.01M425.1 276.5h.01M433.9 272.9h.01M429.5 302h.01M411.7 301.2h.01M422.2 301.4h.01M417.8 303.5h.01M431.8 300.9h.01M417.7 302.6h.01M432.5 301.2h.01M458.2 274.1h.01M456.5 281.3h.01M459.3 282.4h.01M446.5 277.9h.01M441.8 282.5h.01M457.9 274h.01M449.5 301.3h.01M444.6 301.3h.01M455.8 302.1h.01M439.6 301.9h.01M468 299.9h.01M460.1 300.7h.01M457.9 301h.01M493.5 277.9h.01M475.5 277.5h.01M498.3 272.2h.01M482.2 283.1h.01M497.6 270.8h.01M485.8 280.9h.01M486.8 301.7h.01M484.9 302.7h.01M477.8 300.8h.01M471.8 301.4h.01M499.2 301.3h.01M492.3 302h.01M482.6 302.1h.01M477 302.3h.01M508.2 275.7h.01M506.3 283.7h.01M521 279.4h.01M520.6 273.5h.01M523.8 302.1h.01M524 301.6h.01M525.8 301.8h.01M505.8 301.3h.01M513.6 301.4h.01M508.8 304.7h.01M548 282.3h.01M549 276.6h.01M545.8 281.8h.01M541.5 274.6h.01M548.3 302.2h.01M536.1 300.8h.01M543.5 301.1h.01M549.4 301.2h.01M550.8 301.4h.01M569.7 278.3h.01M572.6 275.5h.01M568.9 283.7h.01M558.6 302.1h.01M571.9 301.4h.01M571.4 300.6h.01M571.1 301.4h.01M581.2 275.7h.01M579.5 301.7h.01M576.1 303.3h.01M592.9 275.6h.01M592 301.3h.01M593.1 300.8h.01M601.4 276.1h.01M597.6 277h.01M596.6 282.4h.01M597.5 302.2h.01M600.9 302.2h.01M596.7 299.1h.01M607 300.8h.01M620.3 277.7h.01M629.6 276.7h.01M628.4 275.4h.01M624 299.7h.01M625.9 299.7h.01M626.6 300.9h.01M620.2 302.6h.01M637.5 278h.01M640.2 282.4h.01M639.1 300.4h.01M635.6 300.1h.01M644.1 299.6h.01M647.1 278.2h.01M651.8 270.6h.01M656.3 278.5h.01M651.7 301.2h.01M647.8 301.8h.01M656.1 302h.01M656.7 301.1h.01M664.6 270.8h.01M669.6 282.6h.01M670.1 302h.01M669.7 302.9h.01M679.9 274.3h.01M680.8 300.3h.01M678 301.6h.01" stroke="#e4e4e4" stroke-opacity=".55" stroke-width="1.1" stroke-linecap="round" fill="none"/>
<path d="M674.9 293.1H683.9" stroke="#ebebeb" stroke-width="1.5"/>
</g>
<path d="M22.3 246.8H24.2M22.3 202.4H24.2M22.3 172.7H24.2M22.3 98.6H24.2M22.3 24.4H24.2M52.6 320.7v1.9M108.7 320.7v1.9M159.5 320.7v1.9M203.8 320.7v1.9M246.2 320.7v1.9M286.5 320.7v1.9M324.4 320.7v1.9M360 320.7v1.9M392.3 320.7v1.9M423.2 320.7v1.9M454.3 320.7v1.9M485 320.7v1.9M513.3 320.7v1.9M539 320.7v1.9M562.7 320.7v1.9M585 320.7v1.9M605 320.7v1.9M623.4 320.7v1.9M639.5 320.7v1.9M653.5 320.7v1.9M666.6 320.7v1.9M677.9 320.7v1.9" stroke="#333" stroke-width=".75" fill="none"/>
<g class="tk"><text x="20.8" y="249.0" text-anchor="end">5</text><text x="20.8" y="204.6" text-anchor="end">8</text><text x="20.8" y="174.9" text-anchor="end">10</text><text x="20.8" y="100.8" text-anchor="end">15</text><text x="20.8" y="26.6" text-anchor="end">20</text><text x="52.6" y="328.9" text-anchor="middle">1</text><text x="108.7" y="328.9" text-anchor="middle">2</text><text x="159.5" y="328.9" text-anchor="middle">3</text><text x="203.8" y="328.9" text-anchor="middle">4</text><text x="246.2" y="328.9" text-anchor="middle">5</text><text x="286.5" y="328.9" text-anchor="middle">6</text><text x="324.4" y="328.9" text-anchor="middle">7</text><text x="360" y="328.9" text-anchor="middle">8</text><text x="392.3" y="328.9" text-anchor="middle">9</text><text x="423.2" y="328.9" text-anchor="middle">10</text><text x="454.3" y="328.9" text-anchor="middle">11</text><text x="485" y="328.9" text-anchor="middle">12</text><text x="513.3" y="328.9" text-anchor="middle">13</text><text x="539" y="328.9" text-anchor="middle">14</text><text x="562.7" y="328.9" text-anchor="middle">15</text><text x="585" y="328.9" text-anchor="middle">16</text><text x="605" y="328.9" text-anchor="middle">17</text><text x="623.4" y="328.9" text-anchor="middle">18</text><text x="653.5" y="328.9" text-anchor="middle">20</text><text x="677.9" y="328.9" text-anchor="middle">22</text></g>
<text class="ti" x="353.6" y="337.9" text-anchor="middle">Chromosome</text>
<text class="ti" style="font-size:7.6px" transform="translate(9.0 162.0) rotate(-90)" text-anchor="middle">−log<tspan font-size="5.6" dy="1.6">10</tspan><tspan dy="-1.6"> p</tspan></text>
<path d="M24.2 202.4H683.9" stroke="#111" stroke-width=".75" stroke-dasharray="2.9 2.9" fill="none"/>
<path d="M55.2 11.7L65.9 24.3M95 11.2L106.4 24.3M137.9 11.7L124.7 24.3M122.3 194.7L130 206.7M113.8 231.5L118.3 237.9M165.2 230.7L175.1 243.1M251.9 224.5L248.9 230.7M247.4 170.4L256.4 180.8M297.8 213.1L318.2 229.2M335 226.5L323.6 232.2M257.4 11.2L273.7 24.3M275.2 19.4L275.2 24.3M273 109.2L262.3 119.4M354.8 52.6L345.6 63.8M433 157.9L438.7 164.8M465.3 191.8L470.9 201.5M488.9 202.1L495.6 210.3M415.6 202.2L422.1 211.4M574.6 14.1L581.8 24.3M594.9 194.7L604.6 207.2M615.5 204.7L597.2 218.6M579 220.8L588 221.3M609.3 229L612.8 233.7M637.9 230.2L633.4 240.7" stroke="#1a1aff" stroke-width=".7" fill="none"/>
<path d="M65.9 24.3h.01M106.4 24.3h.01M124.7 24.3h.01M63.4 101.5h.01M50 137.7h.01M61 155.4h.01M39.4 234.5h.01M59.7 217.8h.01M80.1 231h.01M95.9 201.2h.01M112.1 216.3h.01M130 206.7h.01M118.3 237.9h.01M150.1 215.8h.01M173.1 220.1h.01M175.1 243.1h.01M143.1 244.4h.01M183.9 244.6h.01M200 246.1h.01M205.2 180.4h.01M233.8 236.2h.01M248.9 230.7h.01M256.4 180.8h.01M275.7 205.4h.01M271.5 241.4h.01M318.2 229.2h.01M313 215.6h.01M323.6 232.2h.01M273 24.3h.01M275.7 24.3h.01M260.3 37h.01M298.6 61.6h.01M262.3 119.4h.01M291.4 150.4h.01M336.2 24.3h.01M356.1 24.3h.01M345.6 63.8h.01M438.7 164.8h.01M446.9 164.8h.01M419.4 171.4h.01M470.9 201.5h.01M495.6 210.3h.01M499.8 214.5h.01M422.1 211.4h.01M345.4 215.8h.01M372.7 239.7h.01M424.3 237.2h.01M468.4 232.7h.01M511.9 237.8h.01M581.8 24.3h.01M594.4 79.7h.01M635.4 136.5h.01M676.8 120.1h.01M604.6 207.2h.01M597.2 218.6h.01M577.3 214.9h.01M588 221.3h.01M586.2 240.9h.01M612.8 233.7h.01M633.4 240.7h.01M632.6 243.6h.01M645.6 211.6h.01M643.6 242.4h.01M645 242.4h.01" stroke="#00008b" stroke-width="5.3" stroke-linecap="round" fill="none"/>
<g class="gl"><text x="53.8" y="11.2">NMNAT2</text><text x="83.8" y="21.9">EDEM3</text><text x="94.5" y="10.5">BCL2L11</text><text x="116.8" y="21.9">NEMP2</text><text x="139.6" y="11.0">STAT4</text><text x="63.4" y="97.1">TNFSF4</text><text x="49.8" y="133.1">PTPN22</text><text x="61.2" y="151.0">FCGR2A</text><text x="42.3" y="230.3">IL12RB2</text><text x="59.7" y="213.4">FCRL5</text><text x="80.1" y="226.6">SMYD3</text><text x="87.8" y="198.3">SPRED2</text><text x="112.1" y="211.9">DARS</text><text x="121" y="194.1">ERBB4</text><text x="144.6" y="205.0">IKZF2</text><text x="113.3" y="230.6">IFIH1</text><text x="163.2" y="215.4">PXK</text><text x="186.9" y="216.9">IL12A</text><text x="163.5" y="230.1">MYNN</text><text x="149.6" y="241.2">LINC01980</text><text x="191.3" y="240.7">GPR78</text><text x="224.6" y="250.9">LINC01094</text><text x="205.2" y="176.0">BANK1</text><text x="222.6" y="233.0">IL7R</text><text x="251.9" y="223.6">ST8SIA4</text><text x="246.4" y="169.8">IRF1</text><text x="269.8" y="180.2">TCF7</text><text x="275.5" y="200.8">CPNE5</text><text x="271" y="236.8">ATXN1</text><text x="286.2" y="215.9">IKZF1</text><text x="313.5" y="209.5">JAZF1</text><text x="304.3" y="226.8">LAT2</text><text x="351.5" y="224.8">GTF2IRD1-GTF2I</text><text x="336.3" y="236.3">HIP1</text><text x="253.6" y="10.5">SLC17A4</text><text x="252.9" y="21.4">LRRC16A</text><text x="291.1" y="18.9">ZNF184</text><text x="303.3" y="29.4">*HLA region</text><text x="260.3" y="32.8">TNIP1</text><text x="298.6" y="56.9">OLIG3</text><text x="273.5" y="108.8">MIR146A</text><text x="237.5" y="119.0">LINC01845</text><text x="291.6" y="146.0">PRDM1</text><text x="338.2" y="18.7">IRF5</text><text x="359.5" y="20.7">LYN</text><text x="355.8" y="51.7">BLK</text><text x="332.2" y="61.1">MSRA</text><text x="432" y="156.9">IRF7</text><text x="456.8" y="161.7">CD44</text><text x="416.1" y="167.8">WDFY4</text><text x="463.5" y="190.8">PARP11</text><text x="488.6" y="201.4">SH2B3</text><text x="520.4" y="212.2">SLC15A4</text><text x="414.4" y="200.8">ARID5B</text><text x="440.9" y="211.4">ZNF365</text><text x="347.9" y="211.7">FLJ10661</text><text x="376.4" y="236.0">LINC00824</text><text x="424.3" y="232.5">CDH23</text><text x="468.4" y="228.5">ETS1</text><text x="511.9" y="233.6">RCBTB1</text><text x="574.1" y="13.2">ZNF629</text><text x="598.1" y="23.9">ITGAM</text><text x="594.4" y="75.0">IRF8</text><text x="635.4" y="132.1">TYK2</text><text x="665.9" y="116.0">UBE2L3</text><text x="594.4" y="194.1">ERBB2</text><text x="616.8" y="204.2">NEURL4</text><text x="577.3" y="210.7">CLEC16A</text><text x="565.4" y="223.6">CCL22</text><text x="577" y="238.0">HEATR3</text><text x="606.8" y="249.7">LOC284241</text><text x="608.8" y="228.1">GRB2</text><text x="637.9" y="229.1">DOT1L</text><text x="651" y="208.5">PTPRH</text><text x="662.9" y="240.2">SLC6A16</text><text x="663.9" y="251.2">SIGLEC5</text></g>
<rect x="24.2" y="346.6" width="659.7" height="318.3" fill="#ebebeb"/>
<path d="M24.2 658.6H683.9M24.2 592.2H683.9M24.2 539.1H683.9M24.2 505.9H683.9M24.2 459.4H683.9M24.2 393H683.9M80.7 346.6V664.9M134.1 346.6V664.9M181.7 346.6V664.9M225 346.6V664.9M266.4 346.6V664.9M305.4 346.6V664.9M342.2 346.6V664.9M376.1 346.6V664.9M407.8 346.6V664.9M438.8 346.6V664.9M469.6 346.6V664.9M499.1 346.6V664.9M526.1 346.6V664.9M550.9 346.6V664.9M573.9 346.6V664.9M595 346.6V664.9M614.2 346.6V664.9M631.5 346.6V664.9M646.5 346.6V664.9M660 346.6V664.9M672.2 346.6V664.9" stroke="#fff" stroke-width=".4" fill="none"/>
<path d="M24.2 625.4H683.9M24.2 559H683.9M24.2 519.2H683.9M24.2 492.6H683.9M24.2 426.2H683.9M24.2 359.8H683.9" stroke="#fff" stroke-width=".75" fill="none"/>
<g clip-path="url(#c2)">
<path d="M24.2 626.8V586.9H52.6V626.8ZM56 626.8V586.9H79.9V626.8ZM135.7 626.8V586.9H181.3V626.8ZM224.8 626.8V586.9H266V626.8ZM305 626.8V586.9H342.6V626.8ZM376.1 626.8V586.9H387.1V626.8ZM390.9 626.8V586.9H409V626.8ZM437.4 626.8V586.9H469.3V626.8ZM503.8 626.8V586.9H528.5V626.8ZM555.8 626.8V586.9H573.8V626.8ZM594.4 626.8V586.9H614V626.8ZM632 626.8V586.9H645.4V626.8ZM663.2 626.8V586.9H673.2V626.8Z" fill="#ababab"/>
<path d="M79.9 626.8V586.9H135.7V626.8ZM181.3 626.8V586.9H224.8V626.8ZM266 626.8V586.9H305V626.8ZM342.6 626.8V586.9H376.1V626.8ZM409 626.8V586.9H437.4V626.8ZM469.3 626.8V586.9H501.6V626.8ZM530.6 626.8V586.9H553.5V626.8ZM573.8 626.8V586.9H583.2V626.8ZM585.2 626.8V586.9H594.4V626.8ZM614 626.8V586.9H632V626.8ZM645.4 626.8V586.9H661.9V626.8ZM674.9 626.8V586.9H683.9V626.8ZM272.2 626.8V359.8H276.4V626.8Z" fill="#666666"/>
<path d="M25.1 590.9V576.8M26.1 590.9V572.8M27.1 590.9V574.9M28.1 590.9V571.3M29.1 590.9V576.4M30.1 590.9V568.5M31.1 590.9V573.2M32.1 590.9V572.4M33.1 590.9V573.2M34.1 590.9V574.2M35.1 590.9V576M36.1 590.9V571.6M37.1 590.9V577.3M38.1 590.9V573.9M39.1 590.9V570.4M40.1 590.9V575.9M41.1 590.9V567.6M42.1 590.9V571.1M43.1 590.9V567.6M44.1 590.9V576.7M45.1 590.9V570.2M46.1 590.9V575.6M47.1 590.9V575.8M48.1 590.9V575.3M49.1 590.9V565M50.1 590.9V572.9M51.1 590.9V575.8M56.9 590.9V576M57.9 590.9V577.6M58.9 590.9V569.7M59.9 590.9V571.3M60.9 590.9V569.7M61.9 590.9V577.1M62.9 590.9V575.1M63.9 590.9V575.3M64.9 590.9V570.3M65.9 590.9V569.8M66.9 590.9V573.5M67.9 590.9V577.1M68.9 590.9V573.4M69.9 590.9V574.9M70.9 590.9V571.2M71.9 590.9V571M72.9 590.9V576.9M73.9 590.9V571.4M74.9 590.9V576.3M75.9 590.9V572M76.9 590.9V574.1M77.9 590.9V573.2M78.9 590.9V577M136.6 590.9V580.6M137.6 590.9V581.1M138.6 590.9V574.8M139.6 590.9V571.6M140.6 590.9V579.3M141.6 590.9V575.8M142.6 590.9V575.7M143.6 590.9V575.1M144.6 590.9V579.5M145.6 590.9V572.1M146.6 590.9V575M147.6 590.9V572.6M148.6 590.9V575.9M149.6 590.9V578.4M150.6 590.9V575.8M151.6 590.9V570M152.6 590.9V579.1M153.6 590.9V581.5M154.6 590.9V581.5M155.6 590.9V581.8M156.6 590.9V576.1M157.6 590.9V582.5M158.6 590.9V582.9M159.6 590.9V575.7M160.6 590.9V572.4M161.6 590.9V582.5M162.6 590.9V578.7M163.6 590.9V582.6M164.6 590.9V579.2M165.6 590.9V578.1M166.6 590.9V581.8M167.6 590.9V575.7M168.6 590.9V578M169.6 590.9V580.6M170.6 590.9V579.5M171.6 590.9V579.7M172.6 590.9V576.4M173.6 590.9V575.1M174.6 590.9V579.3M175.6 590.9V577.6M176.6 590.9V579.7M177.6 590.9V581.3M178.6 590.9V573.6M179.6 590.9V581.5M180.6 590.9V580.6M225.7 590.9V581.3M226.7 590.9V579.9M227.7 590.9V577.4M228.7 590.9V576.6M229.7 590.9V583.4M230.7 590.9V576.2M231.7 590.9V581.5M232.7 590.9V577.9M233.7 590.9V576M234.7 590.9V580.1M235.7 590.9V579.9M236.7 590.9V577.8M237.7 590.9V577.9M238.7 590.9V579.4M239.7 590.9V581.1M240.7 590.9V578.2M241.7 590.9V578.5M242.7 590.9V581.2M243.7 590.9V581.7M244.7 590.9V578.9M245.7 590.9V580.1M246.7 590.9V576.4M247.7 590.9V582M248.7 590.9V578.4M249.7 590.9V576.8M250.7 590.9V580.5M251.7 590.9V572.9M252.7 590.9V579.1M253.7 590.9V579M254.7 590.9V581.6M255.7 590.9V572.3M256.7 590.9V572.8M257.7 590.9V571.3M258.7 590.9V576.4M259.7 590.9V577.8M260.7 590.9V576.9M261.7 590.9V577M262.7 590.9V580.9M263.7 590.9V578.7M264.7 590.9V577.7M305.9 590.9V580.6M306.9 590.9V576.6M307.9 590.9V581.1M308.9 590.9V577.5M309.9 590.9V582.2M310.9 590.9V578.3M311.9 590.9V573.7M312.9 590.9V576.6M313.9 590.9V579.7M314.9 590.9V579.6M315.9 590.9V582.2M316.9 590.9V572.2M317.9 590.9V578.8M318.9 590.9V581.9M319.9 590.9V574M320.9 590.9V581.2M321.9 590.9V581.2M322.9 590.9V574.3M323.9 590.9V574M324.9 590.9V571.5M325.9 590.9V581.7M326.9 590.9V580.4M327.9 590.9V572M328.9 590.9V576.1M329.9 590.9V570M330.9 590.9V576.7M331.9 590.9V573.4M332.9 590.9V577.5M333.9 590.9V574.9M334.9 590.9V572.8M335.9 590.9V573.5M336.9 590.9V579.5M337.9 590.9V579.2M338.9 590.9V575.8M339.9 590.9V578.7M340.9 590.9V579.1M341.9 590.9V580.6M377 590.9V582.6M378 590.9V580.7M379 590.9V581.5M380 590.9V584.3M381 590.9V581.2M382 590.9V583M383 590.9V572M384 590.9V581.4M385 590.9V574.5M386 590.9V582.2M391.8 590.9V582.6M392.8 590.9V582.6M393.8 590.9V579.4M394.8 590.9V580M395.8 590.9V577.9M396.8 590.9V579.6M397.8 590.9V579.3M398.8 590.9V582.4M399.8 590.9V574.2M400.8 590.9V578M401.8 590.9V582.3M402.8 590.9V580.2M403.8 590.9V582.3M404.8 590.9V577.8M405.8 590.9V581.3M406.8 590.9V576.8M407.8 590.9V581.9M438.3 590.9V580.6M439.3 590.9V575.9M440.3 590.9V579.5M441.3 590.9V580.9M442.3 590.9V581.2M443.3 590.9V582.2M444.3 590.9V576.1M445.3 590.9V582.3M446.3 590.9V582.3M447.3 590.9V581.7M448.3 590.9V581.2M449.3 590.9V577.7M450.3 590.9V579.6M451.3 590.9V581.8M452.3 590.9V578.3M453.3 590.9V580.5M454.3 590.9V577.3M455.3 590.9V569.6M456.3 590.9V572.9M457.3 590.9V578.2M458.3 590.9V580.8M459.3 590.9V570.4M460.3 590.9V580.1M461.3 590.9V582M462.3 590.9V581.1M463.3 590.9V581.4M464.3 590.9V575.1M465.3 590.9V583.1M466.3 590.9V571.9M467.3 590.9V577.5M468.3 590.9V578.2M504.7 590.9V581.3M505.7 590.9V581.2M506.7 590.9V572.7M507.7 590.9V577.6M508.7 590.9V577.3M509.7 590.9V580.8M510.7 590.9V575.4M511.7 590.9V579.8M512.7 590.9V580M513.7 590.9V577.4M514.7 590.9V570.6M515.7 590.9V571.1M516.7 590.9V580.5M517.7 590.9V581.4M518.7 590.9V580.3M519.7 590.9V583.1M520.7 590.9V578.8M521.7 590.9V582.8M522.7 590.9V580.8M523.7 590.9V578.7M524.7 590.9V571.1M525.7 590.9V573.1M526.7 590.9V570.3M527.7 590.9V581.3M556.7 590.9V580M557.7 590.9V574.7M558.7 590.9V580.9M559.7 590.9V580.5M560.7 590.9V581.1M561.7 590.9V577.6M562.7 590.9V578.1M563.7 590.9V569.4M564.7 590.9V578.2M565.7 590.9V578.2M566.7 590.9V578.6M567.7 590.9V570.5M568.7 590.9V581.6M569.7 590.9V578.5M570.7 590.9V574.2M571.7 590.9V580.1M572.7 590.9V576.2M595.3 590.9V580M596.3 590.9V577.3M597.3 590.9V577.6M598.3 590.9V573.8M599.3 590.9V578.4M600.3 590.9V578.2M601.3 590.9V579.3M602.3 590.9V575.8M603.3 590.9V578M604.3 590.9V580.2M605.3 590.9V572.7M606.3 590.9V573.3M607.3 590.9V580.9M608.3 590.9V573.2M609.3 590.9V582.3M610.3 590.9V580.1M611.3 590.9V576.8M612.3 590.9V579.7M632.9 590.9V578.7M633.9 590.9V573.8M634.9 590.9V575.3M635.9 590.9V578.4M636.9 590.9V576.5M637.9 590.9V575.2M638.9 590.9V568.7M639.9 590.9V570.5M640.9 590.9V577.5M641.9 590.9V578.8M642.9 590.9V575.3M643.9 590.9V570.9M664.1 590.9V578.7M665.1 590.9V578M666.1 590.9V575.7M667.1 590.9V571.1M668.1 590.9V579.8M669.1 590.9V581M670.1 590.9V571.9M671.1 590.9V573.8M672.1 590.9V578.6" stroke="#ababab" stroke-width="2.2" stroke-linecap="round" fill="none"/>
<path d="M39.4 580.2V564.3M29.4 580.2V569.6M44.8 580.2V569.6M34 569.6V560.3M34 580.2V569.6M47.5 580.2V568.3M63.5 580.2V512.5M64.3 580.2V514.6M65.1 580.2V515M65.8 580.2V524.8M62.6 580.2V559M61.4 580.2V564.3M66.6 580.2V560.3M143.1 580.2V568.3M150.1 539.7V531.2M150.1 543.1V539.7M150.1 580.2V543.1M173.1 547V535.1M173.1 580.2V547M175.1 580.2V567M157 580.2V569.6M139 580.2V569.6M233.8 580.2V569.6M248.9 555.6V544.5M248.9 561.7V557.7M248.9 580.2V561.7M247.4 580.2V567M256.4 505.9V499.8M256.4 556.3V544.4M256.4 580.2V556.3M260.6 481.8V461.4M260.6 493.9V483.9M260.6 518.5V515.8M260.6 541.7V537.1M260.6 556.2V545.7M260.6 556.3V556.2M260.6 580.2V556.3M262.2 580.2V565.6M240 580.2V569.6M228.5 580.2V571M323.6 559V545.9M323.6 580.2V559M327.5 580.2V568.3M336.2 423.5V390.3M336.2 438.6V426.2M336.2 454.8V438.6M336.2 471.4V454.8M336.2 502.6V488.6M336.2 510.5V502.6M336.2 519.2V510.5M336.2 580.2V516.5M335.5 580.2V551M336.9 580.2V556.3M338.4 580.2V565.6M308.5 580.2V569.6M379 555V544.4M379 580.2V555M403.8 561.7V552.4M403.8 580.2V561.7M396 580.2V569.6M384 580.2V569.6M438.7 580.2V484.9M446.9 506.3V484.9M446.9 580.2V567M458.6 580.2V568.3M468.4 580.2V567M452 580.2V569.6M463 580.2V569.6M505.5 580.2V569.6M511.9 560.3V550.9M511.9 564.3V562.4M511.9 580.2V564.3M519.1 580.2V569.6M524.8 580.2V569.6M567.5 580.2V569.6M560 580.2V569.6M604.6 545.7V537.1M604.6 580.2V545.7M605.3 580.2V556.3M612.8 555V547M612.8 580.2V555M608.5 580.2V568.3M600.5 580.2V568.3M635.4 501V496.8M635.4 580.2V520.5M634.9 580.2V524.5M635.9 580.2V527.1M634.4 580.2V552.4M636.4 580.2V556.3M633.8 580.2V560.3M637 580.2V561.7M642.7 580.2V568.3M668 580.2V571M671.5 580.2V571" stroke="#ababab" stroke-width="2.4" stroke-linecap="round" fill="none"/>
<path d="M26.1 570.3h.01M26.9 573.3h.01M28.1 565.3h.01M35.3 572.5h.01M37.7 571.1h.01M39.4 567.8h.01M44.6 570.4h.01M45.1 565.4h.01M47.3 569.8h.01M48.8 562.4h.01M49 554.9h.01M57.7 574.9h.01M64.7 564.9h.01M69.9 572h.01M71 569.4h.01M72.2 569.3h.01M76.3 564.4h.01M78.9 571.4h.01M138.6 572.3h.01M139.6 568.9h.01M140.6 575.4h.01M144.4 573.4h.01M145.7 567.5h.01M146.9 569h.01M147.7 560.4h.01M152.7 575.2h.01M155.8 578.6h.01M159.7 572.9h.01M161.5 576.1h.01M164.9 573.4h.01M164.7 570.3h.01M168.6 573.2h.01M171.8 574.5h.01M176.5 577.2h.01M179.3 577.4h.01M180.7 576.7h.01M226 579.2h.01M228.4 574h.01M232.7 572.3h.01M233.6 573.1h.01M235 576.4h.01M235.8 576.8h.01M238 574.7h.01M240.6 571.6h.01M240.7 563.4h.01M240.4 559.7h.01M241.4 574h.01M242.4 575.6h.01M243.6 576.9h.01M254.6 578.4h.01M256.6 563.1h.01M262.2 577h.01M262.6 572.7h.01M263.7 575.7h.01M264.1 572.3h.01M306.5 570h.01M310.5 577.5h.01M312.4 569.8h.01M313 571.6h.01M314.1 574.3h.01M315.1 576.9h.01M318.4 573.6h.01M320.2 569.8h.01M327.9 566h.01M332.5 575.2h.01M336.3 570.1h.01M339.1 573.4h.01M338.8 570.3h.01M338.6 566.7h.01M340.6 576.2h.01M378 577.7h.01M378.9 577.8h.01M380.1 581.7h.01M381 578.6h.01M382.7 567.9h.01M396.9 577.7h.01M398 576.7h.01M397.7 576.3h.01M397.4 573.1h.01M404.3 577.4h.01M406.7 573.5h.01M407.6 575.4h.01M408 578.9h.01M439.3 574h.01M444.5 569.6h.01M447 579.2h.01M448.4 573.9h.01M448.3 563.9h.01M449.7 575.5h.01M450.7 573.3h.01M454.1 572.5h.01M455.2 566.1h.01M458.8 577.4h.01M458.9 567.5h.01M460.3 573.5h.01M462.2 575.5h.01M462.5 572.5h.01M464.1 571.8h.01M465.5 578.2h.01M465.5 573.4h.01M467.6 575.4h.01M468.1 572.7h.01M505.5 575.9h.01M507.7 572.9h.01M508.5 575.3h.01M511.1 573.3h.01M518.4 578.2h.01M520.3 579.8h.01M523.4 576.2h.01M523.6 573.7h.01M523.7 570.6h.01M557.5 568.7h.01M563.8 566.3h.01M569.2 575.7h.01M572.5 573.3h.01M597.5 569h.01M597.5 566.4h.01M599.6 575.2h.01M601.4 574.8h.01M606.2 567.3h.01M607 575.1h.01M608.1 570.3h.01M608.3 570.1h.01M611.4 572.3h.01M633.6 570.2h.01M636.7 571.9h.01M637.8 571.7h.01M639 565.9h.01M666.9 567.6h.01M672.2 574.5h.01M672 570.1h.01M27.2 492.6h.01M65.9 359.8h.01M66.1 367h.01M66 378.4h.01M39.3 548h.01M39.6 553.1h.01M39.4 558.5h.01M39.3 561.5h.01M38.8 552.4h.01M38.6 557.7h.01M29.5 553.7h.01M29.3 558h.01M29.5 562.3h.01M29.4 565.9h.01M44.8 558.1h.01M44.8 562.9h.01M44.8 566.1h.01M44.9 568.8h.01M47.6 556.3h.01M47.3 560.2h.01M47.6 564.9h.01M47.6 567.7h.01M49.8 461.3h.01M50.3 464.7h.01M50 523.1h.01M49.8 529.8h.01M50.1 535.1h.01M49.9 547h.01M49.7 556.3h.01M49.7 561.7h.01M49.8 565.6h.01M63.4 428.9h.01M65.3 452.8h.01M65.3 459.4h.01M63.8 463.4h.01M63.1 466.5h.01M63.5 469.5h.01M63.5 473h.01M63.6 474.5h.01M63.6 477.4h.01M63.4 480.3h.01M63.8 484.1h.01M63.8 486.1h.01M64 488.4h.01M63.4 491.6h.01M63.7 495.4h.01M63.9 499h.01M64 501.1h.01M64 504h.01M63.2 505.8h.01M63.3 507.6h.01M63.7 510.1h.01M63.6 512.9h.01M62.9 516.7h.01M64.4 519.9h.01M63.7 523.2h.01M64.2 526.6h.01M63.7 528.6h.01M63.9 532.2h.01M64.7 464.7h.01M64.5 467.8h.01M64.3 469.2h.01M64.5 472.3h.01M65 474.9h.01M64.1 477h.01M64.3 479.2h.01M64.5 481.1h.01M64.6 483.5h.01M64.5 485.3h.01M63.8 487.3h.01M64.6 489.8h.01M64.1 491.2h.01M64.4 493.7h.01M64.7 496.9h.01M64.6 499.2h.01M64.9 500.5h.01M64.5 503.6h.01M64.9 505.2h.01M64.2 507.9h.01M64.6 509.2h.01M64.4 511.3h.01M64.4 512.7h.01M64.8 514.8h.01M65.1 517.9h.01M65.5 520.9h.01M64.6 523.4h.01M63.7 526h.01M64.6 527.8h.01M64.1 530.5h.01M65.2 467.4h.01M64.5 469.5h.01M65.2 473.5h.01M65.3 475.9h.01M65.6 478.4h.01M65.5 482.2h.01M65.6 484.4h.01M64.9 487.9h.01M65.7 490.1h.01M65.3 492.4h.01M65.3 495.1h.01M65.2 498.4h.01M65.9 500.5h.01M65.1 502.8h.01M65.1 506.9h.01M65.5 511h.01M65.3 514.3h.01M65 517h.01M65.4 520.7h.01M65.1 523.6h.01M65.6 526.9h.01M64.9 529.3h.01M65.3 531.5h.01M62.6 475.3h.01M62.8 483.7h.01M62.6 494h.01M62.5 499.1h.01M62.2 508.6h.01M62.8 516.3h.01M62.6 524.4h.01M63.1 533.2h.01M62.4 540.8h.01M62.6 544.9h.01M62.8 551.3h.01M62.4 556.9h.01M61.1 477.2h.01M61.1 487h.01M61.4 496.9h.01M61.9 501.7h.01M61.4 507.7h.01M60.6 516.4h.01M60.8 527h.01M61.2 539.1h.01M61.5 550.4h.01M61.3 555.7h.01M61.5 565.4h.01M59.7 533h.01M60.8 536.3h.01M59.8 539.9h.01M59.4 543.2h.01M59.9 549.4h.01M60.5 555.1h.01M59.6 559.6h.01M60.1 565.7h.01M66.8 524.5h.01M67.2 527.8h.01M66.8 532.7h.01M67 538.6h.01M66.8 546.7h.01M66.9 551.9h.01M66.4 558.7h.01M66.4 564.1h.01M66.8 567.4h.01M80.1 544.8h.01M79.3 553.7h.01M79.1 556.9h.01M79.1 561.2h.01M79 566.3h.01M142.8 556.7h.01M143.1 562.4h.01M143.3 566.9h.01M141.5 548.4h.01M165 535.8h.01M166.4 359.8h.01M170.3 418.2h.01M175.1 555.7h.01M175.1 561.2h.01M175.2 566.8h.01M157.1 559h.01M157.2 562.9h.01M157 567.6h.01M139 560.3h.01M138.9 565.3h.01M138.9 568.4h.01M233.5 549.4h.01M233.5 555h.01M233.8 559.1h.01M233.8 563.1h.01M233.5 568.9h.01M247.4 543.1h.01M247.5 547.9h.01M247.5 550.9h.01M247.3 554.6h.01M247.6 561.2h.01M247.3 565.2h.01M256 520.9h.01M256.5 508.5h.01M257.8 524.5h.01M258 545.7h.01M258.1 549.7h.01M260.2 371.1h.01M260.1 391.7h.01M260.4 396.2h.01M260.5 409.6h.01M260.2 418.2h.01M262 444.8h.01M261 454.1h.01M260.8 456.7h.01M260.8 504.6h.01M260.8 511.2h.01M260.3 528.5h.01M260.5 532.4h.01M261.9 501.9h.01M262.1 507.2h.01M261.9 512.5h.01M262 517.8h.01M262.2 529.8h.01M262.3 535.3h.01M262.3 538.9h.01M262.4 543h.01M262.1 546.1h.01M262.5 549.3h.01M262.2 553.2h.01M262.3 555.7h.01M262.2 559.4h.01M261.9 564.6h.01M240.1 559h.01M239.8 564.2h.01M239.9 569.3h.01M228.6 561.7h.01M228.4 566.7h.01M228.4 569.7h.01M313.1 531.1h.01M312.8 537.9h.01M313.4 544.3h.01M313.1 552.4h.01M312.7 558.3h.01M312.5 565.3h.01M311.1 533.8h.01M311.4 538.1h.01M311.2 546.7h.01M310.6 551.9h.01M312 557.7h.01M311.7 566.1h.01M318.2 543.2h.01M318.2 546.3h.01M318.4 551.3h.01M318.3 556.6h.01M318.1 561.6h.01M318.6 568.2h.01M316.5 547h.01M316.4 552.9h.01M316.5 558h.01M316.5 563.1h.01M316.5 567.9h.01M327.4 551h.01M327.6 557.3h.01M327.6 563.4h.01M336 359.8h.01M336.3 376.4h.01M336.2 379.7h.01M340.4 533.8h.01M338.3 540.4h.01M338.3 545h.01M338.3 550h.01M338.3 555.4h.01M338.5 558.8h.01M308.3 559h.01M308.7 564.6h.01M308.5 569.1h.01M395.9 559h.01M396.1 564.4h.01M395.8 567.2h.01M383.9 561.7h.01M384 566.3h.01M446.8 518.1h.01M446.8 527.1h.01M446.8 535.5h.01M447 542h.01M446.8 551h.01M447 554.5h.01M447 556.1h.01M447.1 557.6h.01M446.8 559.2h.01M446.7 561.1h.01M447 562.7h.01M446.9 565.9h.01M445.2 544.4h.01M441 552.4h.01M441 557.7h.01M458.6 554.4h.01M458.7 559h.01M458.8 561.9h.01M458.5 566.9h.01M468.5 546.4h.01M468.1 551.5h.01M468.5 555.5h.01M468.2 559.5h.01M468.2 563.8h.01M452.1 559h.01M451.9 561.4h.01M452.1 567h.01M452 569.3h.01M463 560.3h.01M462.9 564.5h.01M462.7 566.8h.01M505.4 548.4h.01M505.4 553.8h.01M505.8 560.4h.01M505.7 563.8h.01M505.5 569.5h.01M518.9 547.4h.01M519.1 551.6h.01M518.9 558.8h.01M518.9 562.4h.01M519.1 568.6h.01M524.7 556.3h.01M525 559.8h.01M524.5 565h.01M524.6 569.1h.01M567.8 559h.01M567.5 563.1h.01M567.7 566.6h.01M560 561.7h.01M559.9 566.4h.01M597.2 533.8h.01M597.2 543.1h.01M597 548.4h.01M597 555h.01M604.6 523.5h.01M604.7 528.5h.01M604.7 532.4h.01M603.9 527.1h.01M604 531.1h.01M608.4 555h.01M608.5 559.1h.01M608.5 563.1h.01M608.5 565.4h.01M600.5 556.3h.01M600.3 560.5h.01M600.6 564.1h.01M635.6 460.2h.01M635.4 466h.01M635.3 468.7h.01M635.4 483.3h.01M635.3 491.3h.01M635.5 513.8h.01M635.3 517.2h.01M632.7 553.7h.01M633 557.7h.01M632.5 556.3h.01M645 527.4h.01M645.1 537.1h.01M645.2 548.4h.01M645.4 555h.01M642.5 554.4h.01M643 556.9h.01M642.8 559.9h.01M642.5 563h.01M642.8 566.7h.01M644 555h.01M640.1 551h.01M640.1 556.3h.01M640.2 559h.01M638.3 553.7h.01M638.3 559h.01M667.9 564.3h.01M667.9 567.4h.01M668.1 569.4h.01M671.5 565.6h.01M671.8 568h.01M671.7 569.5h.01" stroke="#ababab" stroke-width="2.5" stroke-linecap="round" fill="none"/>
<path d="M80.8 590.9V575.9M81.8 590.9V563M82.8 590.9V566.6M83.8 590.9V570.2M84.8 590.9V575.9M85.8 590.9V576.4M86.8 590.9V565.8M87.8 590.9V572.9M88.8 590.9V570.8M89.8 590.9V575.5M90.8 590.9V575.5M91.8 590.9V573.9M92.8 590.9V567.5M93.8 590.9V575.8M94.8 590.9V562M95.8 590.9V570.8M96.8 590.9V562M97.8 590.9V562M98.8 590.9V572M99.8 590.9V566.2M100.8 590.9V575.6M101.8 590.9V567.4M102.8 590.9V569.2M103.8 590.9V567.8M104.8 590.9V575M105.8 590.9V575.9M106.8 590.9V575.9M107.8 590.9V576.1M108.8 590.9V570.6M109.8 590.9V572.5M110.8 590.9V575.1M111.8 590.9V569.2M112.8 590.9V573.2M113.8 590.9V572M114.8 590.9V569.1M115.8 590.9V568M116.8 590.9V576.4M117.8 590.9V577.4M118.8 590.9V567.9M119.8 590.9V565.1M120.8 590.9V567.1M121.8 590.9V574.5M122.8 590.9V572.4M123.8 590.9V575.3M124.8 590.9V564.3M125.8 590.9V576.4M126.8 590.9V577.9M127.8 590.9V577.8M128.8 590.9V570.5M129.8 590.9V576.5M130.8 590.9V577.2M131.8 590.9V569.8M132.8 590.9V576.1M133.8 590.9V578.5M134.8 590.9V575.9M182.2 590.9V575.2M183.2 590.9V573.2M184.2 590.9V563.2M185.2 590.9V564.8M186.2 590.9V573.3M187.2 590.9V572.6M188.2 590.9V563.8M189.2 590.9V573.1M190.2 590.9V576.4M191.2 590.9V574.7M192.2 590.9V572.9M193.2 590.9V575.3M194.2 590.9V565.4M195.2 590.9V574.9M196.2 590.9V572M197.2 590.9V574.9M198.2 590.9V572.7M199.2 590.9V574.4M200.2 590.9V562.8M201.2 590.9V567.6M202.2 590.9V574.4M203.2 590.9V567.9M204.2 590.9V562M205.2 590.9V575.5M206.2 590.9V562.4M207.2 590.9V568.9M208.2 590.9V566.5M209.2 590.9V571.6M210.2 590.9V574.6M211.2 590.9V561.3M212.2 590.9V572.7M213.2 590.9V564.3M214.2 590.9V573.2M215.2 590.9V574.8M216.2 590.9V573.4M217.2 590.9V575.4M218.2 590.9V572.1M219.2 590.9V571.8M220.2 590.9V564.2M221.2 590.9V576.5M222.2 590.9V563.5M223.2 590.9V563.3M266.9 590.9V575.9M267.9 590.9V573.2M268.9 590.9V577.2M269.9 590.9V573.3M270.9 590.9V570.2M271.9 590.9V572.7M272.9 590.9V564.3M273.9 590.9V572.5M274.9 590.9V563.6M275.9 590.9V576.8M276.9 590.9V568.9M277.9 590.9V571.6M278.9 590.9V566.3M279.9 590.9V570.3M280.9 590.9V562.9M281.9 590.9V573.6M282.9 590.9V576.1M283.9 590.9V568.7M284.9 590.9V563M285.9 590.9V567.8M286.9 590.9V576.6M287.9 590.9V575.4M288.9 590.9V573.8M289.9 590.9V574M290.9 590.9V570.8M291.9 590.9V578.1M292.9 590.9V571.4M293.9 590.9V577.5M294.9 590.9V576.9M295.9 590.9V563.3M296.9 590.9V570.6M297.9 590.9V575.6M298.9 590.9V574.9M299.9 590.9V572.8M300.9 590.9V568.2M301.9 590.9V572.3M302.9 590.9V570.1M303.9 590.9V564.4M343.5 590.9V577.9M344.5 590.9V573M345.5 590.9V573.5M346.5 590.9V573.8M347.5 590.9V571.2M348.5 590.9V575.8M349.5 590.9V577.3M350.5 590.9V570.7M351.5 590.9V564.7M352.5 590.9V572.8M353.5 590.9V579.1M354.5 590.9V578.5M355.5 590.9V573.8M356.5 590.9V573.7M357.5 590.9V573.2M358.5 590.9V577.6M359.5 590.9V577.3M360.5 590.9V574.7M361.5 590.9V576.9M362.5 590.9V578M363.5 590.9V570.2M364.5 590.9V566.7M365.5 590.9V574.6M366.5 590.9V565M367.5 590.9V572.1M368.5 590.9V567M369.5 590.9V576.1M370.5 590.9V572.9M371.5 590.9V564.6M372.5 590.9V569.9M373.5 590.9V570.6M374.5 590.9V567.2M409.9 590.9V575.2M410.9 590.9V574.8M411.9 590.9V571.3M412.9 590.9V574.5M413.9 590.9V570.2M414.9 590.9V573.5M415.9 590.9V570.4M416.9 590.9V570.2M417.9 590.9V568.9M418.9 590.9V562.5M419.9 590.9V568.5M420.9 590.9V570.4M421.9 590.9V573.3M422.9 590.9V565.1M423.9 590.9V565.5M424.9 590.9V566.8M425.9 590.9V572.6M426.9 590.9V572.7M427.9 590.9V561.8M428.9 590.9V570.4M429.9 590.9V567.6M430.9 590.9V568.8M431.9 590.9V571.9M432.9 590.9V576.6M433.9 590.9V566.2M434.9 590.9V564.2M435.9 590.9V571.5M470.2 590.9V576.5M471.2 590.9V572.4M472.2 590.9V575.9M473.2 590.9V569.3M474.2 590.9V574.6M475.2 590.9V573.3M476.2 590.9V567.8M477.2 590.9V571.9M478.2 590.9V575.5M479.2 590.9V573.5M480.2 590.9V571.5M481.2 590.9V569.2M482.2 590.9V575.8M483.2 590.9V566.8M484.2 590.9V576.2M485.2 590.9V577.1M486.2 590.9V573.9M487.2 590.9V572.2M488.2 590.9V570.3M489.2 590.9V567.7M490.2 590.9V570.6M491.2 590.9V569.2M492.2 590.9V574.3M493.2 590.9V575.3M494.2 590.9V570.5M495.2 590.9V570.7M496.2 590.9V566.5M497.2 590.9V570.6M498.2 590.9V573.9M499.2 590.9V569.6M500.2 590.9V573.6M531.5 590.9V577.9M532.5 590.9V570.5M533.5 590.9V575.6M534.5 590.9V575.5M535.5 590.9V577.3M536.5 590.9V578.2M537.5 590.9V576.3M538.5 590.9V576.2M539.5 590.9V574.1M540.5 590.9V572.2M541.5 590.9V578.1M542.5 590.9V572.2M543.5 590.9V575.7M544.5 590.9V576.4M545.5 590.9V575.9M546.5 590.9V574.7M547.5 590.9V573.2M548.5 590.9V577.1M549.5 590.9V575.3M550.5 590.9V575M551.5 590.9V570.2M552.5 590.9V577.6M574.7 590.9V576.5M575.7 590.9V571.4M576.7 590.9V575.4M577.7 590.9V575.7M578.7 590.9V575.2M579.7 590.9V573.4M580.7 590.9V572.2M581.7 590.9V572.6M586.1 590.9V576.5M587.1 590.9V570.8M588.1 590.9V572.5M589.1 590.9V565.5M590.1 590.9V575.4M591.1 590.9V576.7M592.1 590.9V569.8M593.1 590.9V572.8M614.9 590.9V577.9M615.9 590.9V572.6M616.9 590.9V573.3M617.9 590.9V570.5M618.9 590.9V569.5M619.9 590.9V568.7M620.9 590.9V574M621.9 590.9V575.9M622.9 590.9V576.9M623.9 590.9V574.8M624.9 590.9V570.7M625.9 590.9V575.8M626.9 590.9V576.3M627.9 590.9V576.4M628.9 590.9V571.8M629.9 590.9V574.2M630.9 590.9V572.6M646.3 590.9V577.9M647.3 590.9V573.5M648.3 590.9V576.5M649.3 590.9V576M650.3 590.9V570.1M651.3 590.9V573.7M652.3 590.9V572.5M653.3 590.9V574.4M654.3 590.9V575.3M655.3 590.9V573.3M656.3 590.9V573.5M657.3 590.9V573.2M658.3 590.9V576.2M659.3 590.9V568.6M660.3 590.9V570.9M675.8 590.9V579.8M676.8 590.9V570.6M677.8 590.9V576.2M678.8 590.9V579.2M679.8 590.9V576.8M680.8 590.9V575.4M681.8 590.9V576.8M682.8 590.9V573.1" stroke="#666666" stroke-width="2.2" stroke-linecap="round" fill="none"/>
<path d="M90.2 580.2V564.3M95.9 548.5V533.8M95.9 556.3V550.6M95.9 580.2V556.3M112.1 541.7V531.6M112.1 580.2V541.7M118.4 580.2V568.3M124.7 484.7V476.7M124.7 487.3V484.7M124.7 580.2V486M125.4 580.2V545.7M124 580.2V552.4M130 532.4V522.9M130 580.2V532.4M128.2 580.2V565.6M101 580.2V567M85 580.2V568.3M121.5 580.2V567M183.9 580.2V565.6M200 580.2V565.6M205.2 541.7V499.8M205.2 580.2V545.7M190 580.2V567M213 580.2V567M220 580.2V568.3M271.7 581.6V548.4M276.9 581.6V545.7M271.1 581.6V555M277.5 581.6V552.4M270.5 581.6V560.3M278.1 581.6V557.7M269.9 581.6V565.6M278.7 581.6V563M269.3 581.6V569.6M279.3 581.6V568.3M291.5 478.7V472M298.8 421.3V408.9M298.8 426.2V423.4M298.8 564.3V545.7M298.8 580.2V564.3M286.5 580.2V567M281 580.2V567M295 580.2V567M345.6 423.5V412.3M345.6 442.1V436.8M345.6 499.2V488.6M345.6 519.2V511.2M345.6 530.6V523.1M345.6 535.1V532.7M345.6 580.2V532.4M346.3 580.2V541.7M344.9 580.2V551M367.8 580.2V565.6M372.7 580.2V564.3M350.5 580.2V567M361 580.2V567M419.2 523.2V515.2M419.2 535.7V525.3M419.2 539.1V537.8M419.2 580.2V539.1M422.2 536.1V527.3M422.2 548.4V536.1M422.2 580.2V548.4M424.3 580.2V564.3M417.6 580.2V564.3M431.8 580.2V567M428 580.2V567M414 580.2V567M472 580.2V567M477.7 580.2V567M484 580.2V567M490 580.2V567M495.6 549V533.1M495.6 556.3V549M495.5 559V556.3M495.5 580.2V559M499.8 545.4V530M499.8 545.7V545.4M499.8 580.2V545.7M499.2 580.2V551M497.5 580.2V564.3M540 580.2V567M548 580.2V567M534 580.2V567M544 567V563M544 580.2V567M577.3 541.7V530.3M577.3 580.2V541.7M575.8 580.2V564.3M581.8 407.1V400.2M581.8 414.6V407.1M581.8 464.7V460.2M581.8 483.8V475.3M581.8 503.2V495.3M588 551V536.2M588 580.2V551M587.3 580.2V556.3M594.2 433.5V427.9M594.2 481.6V474M594.2 484V483.8M594.2 507.2V493.9M594.2 537.9V521.8M594.2 545.7V537.9M594.2 580.2V543.1M590.8 556V545.7M590.8 561.7V558.1M590.8 580.2V561.7M621.6 580.2V567M630.6 580.2V567M617 580.2V568.3M626 580.2V568.3M660 580.2V565.6M655 580.2V568.3M650.5 580.2V568.3M676.8 458.3V451.4M676.8 478.1V458.3M676.8 481.3V480.2M676.8 552.4V545.7M676.8 565.6V559M676.8 580.2V565.6M680.5 580.2V567M682.6 580.2V567" stroke="#666666" stroke-width="2.4" stroke-linecap="round" fill="none"/>
<path d="M84.7 570.5h.01M86.8 561.5h.01M90.8 568.9h.01M94.3 573.6h.01M94.6 556.5h.01M95.2 548.6h.01M97.1 553.9h.01M98.2 553.9h.01M99.6 562h.01M100.5 571.5h.01M106.8 573.7h.01M112.6 569.2h.01M117.8 575h.01M119.5 562.3h.01M121.7 569.4h.01M125.1 557.8h.01M124.7 551.5h.01M126.6 574.7h.01M130.7 572.1h.01M130.7 569.6h.01M131.4 563.8h.01M183.6 567.8h.01M187.1 568.8h.01M188.2 560.1h.01M190 574.3h.01M192.4 568.2h.01M195.8 568.4h.01M197.7 566.3h.01M199.8 558.9h.01M200.2 554h.01M202.2 570h.01M204.2 558.8h.01M205.7 557.2h.01M207.2 558.9h.01M207.7 556.3h.01M210.9 554.7h.01M210.9 557.2h.01M214.9 570.4h.01M216 571.5h.01M216.4 565.6h.01M217.4 571.4h.01M217.2 566.4h.01M218.6 570.4h.01M219.2 567h.01M220.4 560.9h.01M220.3 560.6h.01M222.2 558.9h.01M223 556.9h.01M272.4 567.5h.01M273.9 569h.01M274.9 558.2h.01M281.4 570.4h.01M283.8 564.1h.01M284.9 558.8h.01M284.6 550.1h.01M287.3 570.5h.01M293.1 564.9h.01M292.8 566.2h.01M296 556.4h.01M295.8 546.3h.01M296.6 568.3h.01M297.6 569.7h.01M345.2 567.8h.01M349.6 574.7h.01M351.6 554.1h.01M351.8 550.6h.01M354.5 574.6h.01M356.7 571.6h.01M359 574.4h.01M359.3 573.6h.01M361.5 571.5h.01M363.1 574.5h.01M363.4 566.3h.01M364.2 562h.01M370.9 561h.01M371.4 560.3h.01M372.5 564.1h.01M372.5 563.9h.01M372.4 560.9h.01M419.2 556h.01M418.9 555.4h.01M427.1 570.2h.01M426.8 567.6h.01M434.4 562.1h.01M470 570.6h.01M472 570h.01M474.2 570.6h.01M475.5 570.1h.01M476.2 564.3h.01M483 561.2h.01M484.4 570.8h.01M488 565.6h.01M492.5 569.2h.01M496.4 563.5h.01M497.5 567.6h.01M498.6 568.4h.01M497.8 569.5h.01M499 563.5h.01M534.7 572h.01M536.4 573.1h.01M537.1 571.7h.01M544.9 570.4h.01M548.4 574.2h.01M549.4 572.8h.01M575 572.3h.01M590 570.5h.01M592.3 567.9h.01M619.1 564.9h.01M624.6 566.9h.01M627 574.7h.01M627.8 573.2h.01M629.3 570.1h.01M631.1 567.9h.01M648.2 574.6h.01M649.6 572.8h.01M651.5 569.1h.01M651.9 568.4h.01M654.3 572.1h.01M656.1 570.7h.01M658.6 573.1h.01M658.9 564.4h.01M677.4 574h.01M678.8 576.7h.01M680.6 573.6h.01M90.2 513.8h.01M90.3 519.8h.01M90.4 521.2h.01M90.2 533.8h.01M90 555h.01M90.1 558.8h.01M89.9 562.2h.01M96 518.1h.01M95.9 522.5h.01M106.6 359.8h.01M108.3 465.1h.01M118.4 551h.01M118.5 554.5h.01M118.5 559.7h.01M118.3 564.6h.01M116.2 556.3h.01M116.2 561.7h.01M116.2 564.3h.01M114.7 537.8h.01M115 543.1h.01M114.7 547h.01M114.7 551h.01M115 555h.01M115 557.7h.01M124.7 359.8h.01M124.6 364.2h.01M124.7 370.2h.01M124.7 373.1h.01M124.7 378h.01M124.8 380.1h.01M124.6 388h.01M124.8 395.3h.01M124.6 397.5h.01M124.8 404.2h.01M124.7 406.8h.01M124.8 410.3h.01M124.6 415.3h.01M124.6 422h.01M124.6 429.5h.01M124.7 435.1h.01M124.6 439.1h.01M124.8 442.4h.01M124.8 445.7h.01M124.7 448.4h.01M124.6 450.2h.01M124.7 456.9h.01M124.6 461.3h.01M124.8 463.5h.01M124.7 466.4h.01M124.7 469.1h.01M132.1 515.2h.01M134.1 359.8h.01M128.4 543.1h.01M128.1 548.3h.01M128.1 553.7h.01M128.3 558.8h.01M127.9 564.5h.01M101 556.3h.01M101.1 560.4h.01M101 564.1h.01M101.2 566h.01M85 559h.01M85 561.9h.01M85.1 565.3h.01M85 567.1h.01M121.3 555h.01M121.3 557.4h.01M121.4 560h.01M121.5 564h.01M184.2 557h.01M184 559.3h.01M184.1 563.9h.01M200 558.3h.01M200 560.2h.01M200.1 564.1h.01M205.3 543.7h.01M190 559h.01M190 563.7h.01M189.9 566.5h.01M213 560.3h.01M213 565.3h.01M219.7 561.7h.01M219.8 565.8h.01M271.6 554.1h.01M271.5 559h.01M271.6 563h.01M291.6 482.4h.01M291.4 487.3h.01M291.6 493.9h.01M291.5 509.2h.01M291.4 516.5h.01M291.5 519.2h.01M291.5 521.8h.01M291.5 525.8h.01M291.6 532.4h.01M291.8 537.1h.01M291.4 544.4h.01M291.4 551h.01M291.2 556.3h.01M291.5 560.3h.01M291.4 564.3h.01M298.5 393h.01M298.8 404.3h.01M298.9 430.2h.01M298.7 434.2h.01M298.7 437.5h.01M298.7 478h.01M298.9 506.8h.01M298.6 519.4h.01M298.8 528.5h.01M299.1 535.8h.01M303.8 559h.01M286.6 553.7h.01M286.7 558.4h.01M286.4 562.1h.01M286.7 566.9h.01M281.1 557.7h.01M280.8 562.8h.01M281 566.3h.01M295 556.3h.01M295 559.5h.01M294.7 564.6h.01M345.4 395h.01M345.7 454.1h.01M345.6 462.1h.01M345.7 468.7h.01M345.5 474.5h.01M345.7 503.2h.01M345.5 505.9h.01M345.7 508.5h.01M354.6 519.7h.01M356 359.8h.01M367.7 547h.01M367.7 550.5h.01M367.8 554.4h.01M367.9 556.8h.01M367.6 560.7h.01M367.8 565.4h.01M372.6 552.6h.01M372.8 555.2h.01M373 557.2h.01M372.8 560h.01M372.6 563.3h.01M350.4 553.7h.01M350.1 555.9h.01M350.5 559.1h.01M350.6 563h.01M350.6 566.8h.01M360.9 556.3h.01M361.2 559.4h.01M360.8 563h.01M410.3 532.4h.01M410.1 534.4h.01M409.9 536.9h.01M410.2 539.9h.01M410.3 542.4h.01M410 545.4h.01M410 548.6h.01M409.8 552.7h.01M409.8 555.6h.01M409.8 558.3h.01M409.8 561.2h.01M409.8 564.5h.01M419.3 491.4h.01M424.1 550.4h.01M424.2 553h.01M424.6 555.5h.01M424.4 557.8h.01M424 559.8h.01M424.4 562.1h.01M417.7 540.4h.01M417.5 543.9h.01M417.2 549h.01M417.5 553.6h.01M417.6 557.2h.01M417.9 561.6h.01M431.9 559h.01M431.7 562.8h.01M431.7 564.4h.01M428.1 555h.01M428.1 559.5h.01M428.2 563.7h.01M413.6 556.3h.01M414 560.9h.01M414 563.3h.01M413.9 566.5h.01M471.1 518.4h.01M472.3 557.7h.01M472.1 561.1h.01M471.9 563.3h.01M472.1 566.4h.01M477.8 557.7h.01M477.4 562.4h.01M477.5 565.3h.01M484.2 559h.01M484 561.2h.01M484.2 564.3h.01M490.2 559h.01M490 564.4h.01M495.4 526.3h.01M495.5 529.8h.01M497.5 547h.01M497.4 550.2h.01M497.5 555.1h.01M497.6 558h.01M497.5 560.5h.01M540.1 560.3h.01M540.1 563.1h.01M548.2 559h.01M547.9 563h.01M547.9 565.3h.01M534.2 561.7h.01M534.1 564.2h.01M575.8 541.7h.01M575.8 545.1h.01M575.7 550.1h.01M575.8 552.4h.01M575.9 556.7h.01M575.4 559.4h.01M581.9 359.8h.01M581.7 369.1h.01M581.5 389.9h.01M581.6 392.6h.01M581.9 419.6h.01M581.6 427.5h.01M581.7 433.8h.01M581.8 439.2h.01M582 442.1h.01M581.8 450.1h.01M581.8 455.4h.01M581.7 470.4h.01M582 488.6h.01M582 517.8h.01M581.8 524.5h.01M581.6 531.1h.01M581.7 540.4h.01M581.9 545.7h.01M581.7 551h.01M581.9 556.3h.01M581.9 560.3h.01M586.3 553.7h.01M594.4 409.3h.01M594.4 422.2h.01M594.2 442.4h.01M594.4 445.5h.01M594 461.5h.01M594.2 470.4h.01M594.1 487.3h.01M594.2 489.9h.01M594.3 512.5h.01M594.4 515.2h.01M594.1 517.8h.01M621.9 559h.01M621.5 562.6h.01M621.5 566.5h.01M630.6 560.3h.01M630.6 562h.01M630.7 563.7h.01M630.7 566.8h.01M617.1 563h.01M616.9 565.1h.01M617.1 566.6h.01M626.1 561.7h.01M626.2 566.9h.01M659.9 557h.01M660.1 559.5h.01M660.3 561h.01M660.1 563.3h.01M655.1 564.3h.01M654.8 566.2h.01M650.6 563h.01M650.7 564.5h.01M650.4 567.1h.01M676.9 445.5h.01M677.1 488.6h.01M676.9 513.2h.01M677 526.3h.01M676.6 530.3h.01M676.9 556.3h.01M676.8 560.3h.01M680.6 559h.01M680.3 562.3h.01M680.6 565.5h.01M682.5 561.7h.01M682.4 563.5h.01" stroke="#666666" stroke-width="2.5" stroke-linecap="round" fill="none"/>
<path d="M40.8 584h.01M34.6 586h.01M45.4 581.3h.01M29.2 581h.01M25.3 583.2h.01M46.6 607.7h.01M36.3 607.1h.01M25.6 607.8h.01M46.1 608h.01M44.4 608.8h.01M30.4 609.6h.01M29.9 609.3h.01M75.9 582.7h.01M59.8 583h.01M76.3 589.8h.01M69.6 584.6h.01M70.3 609.2h.01M71.5 607.9h.01M75 608.7h.01M64.2 608.7h.01M76 607.7h.01M114.3 582.4h.01M117.4 584.5h.01M102.7 585.5h.01M102.2 583.3h.01M101.4 586.6h.01M121.5 586.2h.01M99.1 582.3h.01M101.4 582.1h.01M123.1 586.9h.01M119.3 591.8h.01M101.9 581.9h.01M112.1 608.7h.01M116.7 608.8h.01M112.3 608.5h.01M90.8 607.4h.01M96.7 607.5h.01M134.6 609.2h.01M105 609.3h.01M112.2 608.1h.01M128.7 607.9h.01M95.3 607.8h.01M107.5 608.7h.01M84.8 608.7h.01M91.6 607.3h.01M139.6 585.1h.01M174.4 581.8h.01M136.9 586h.01M152.8 583.1h.01M139.9 589h.01M172.1 586.6h.01M156.5 580.6h.01M150.6 591.7h.01M153.8 590.4h.01M140.3 608.1h.01M178.3 608.6h.01M164.9 608.7h.01M161.6 607.9h.01M162.4 608.2h.01M160.7 607.3h.01M162.1 608.7h.01M143.9 605.9h.01M172.3 608h.01M160.5 606.2h.01M154.3 608.2h.01M187.7 583.9h.01M216 582.8h.01M201.1 590.1h.01M183.8 582h.01M222.9 589.3h.01M218.2 587.4h.01M195.2 586.2h.01M182.6 586.9h.01M190.6 607h.01M203.2 606.7h.01M219.5 608.4h.01M193.9 607.3h.01M203.2 607.5h.01M184.2 609.6h.01M206.3 607.3h.01M203.5 607.8h.01M200.4 608.2h.01M221.7 608h.01M231.6 586.1h.01M237.4 585.6h.01M255 582h.01M228.1 585.1h.01M264.4 586.7h.01M256 591h.01M260 585.2h.01M260.6 582.8h.01M259.9 608h.01M253.8 607.3h.01M236.2 608.2h.01M249 607.9h.01M262.3 608h.01M233.4 607.6h.01M257.9 607.6h.01M245.9 608h.01M251.5 607.3h.01M229.2 606.8h.01M279.1 583.7h.01M276.8 586.1h.01M292.2 589.8h.01M269.3 582.7h.01M296.9 584.2h.01M278.9 584.3h.01M270.1 584.3h.01M288.3 606.7h.01M283.5 609.1h.01M293.9 609h.01M294.6 608.5h.01M270.2 607.4h.01M290 607.1h.01M299.8 608h.01M295.6 607.7h.01M292.8 607.9h.01M322.3 584.1h.01M341.2 582.7h.01M308.5 586.3h.01M314.3 591h.01M312.9 589.2h.01M340.2 583.3h.01M336.4 583.8h.01M317.2 607.8h.01M321.7 608.4h.01M321 607.7h.01M308.7 607.8h.01M323.1 608.4h.01M329 609.4h.01M309.7 606.8h.01M317 607.4h.01M332.9 608.7h.01M365.2 589.3h.01M365.9 583.4h.01M366.3 591.4h.01M373.4 585.3h.01M352.2 587h.01M359.9 586h.01M351.4 607.8h.01M355.1 607.6h.01M357.4 607.9h.01M349.9 607.6h.01M374.4 608.5h.01M360.5 607h.01M345.3 607.7h.01M373.1 608.5h.01M378.5 588.7h.01M379.5 589.2h.01M384.1 609h.01M378.9 608.2h.01M393.4 581.1h.01M405.3 590.5h.01M401.4 585.6h.01M403.1 607.1h.01M398.1 608.7h.01M396.6 608.5h.01M406.5 607.8h.01M423.9 583.3h.01M434.2 584.5h.01M425.9 587.6h.01M425.1 585.6h.01M433.9 582.3h.01M429.5 608.4h.01M411.7 607.6h.01M422.2 607.9h.01M417.8 609.7h.01M431.8 607.4h.01M417.7 608.9h.01M432.5 607.7h.01M458.2 583.4h.01M456.5 589.8h.01M459.3 590.8h.01M446.5 586.8h.01M441.8 590.9h.01M457.9 583.3h.01M449.5 607.8h.01M444.6 607.8h.01M455.8 608.5h.01M439.6 608.3h.01M468 606.5h.01M460.1 607.2h.01M457.9 607.5h.01M493.5 586.8h.01M475.5 586.5h.01M498.3 581.7h.01M482.2 591.4h.01M497.6 580.4h.01M485.8 589.5h.01M486.8 608.1h.01M484.9 609h.01M477.8 607.3h.01M471.8 607.8h.01M499.2 607.8h.01M492.3 608.4h.01M482.6 608.5h.01M477 608.7h.01M508.2 584.8h.01M506.3 592h.01M521 588.1h.01M520.6 582.9h.01M523.8 608.5h.01M524 608h.01M525.8 608.2h.01M505.8 607.7h.01M513.6 607.8h.01M508.8 610.8h.01M548 590.8h.01M549 585.6h.01M545.8 590.3h.01M541.5 583.8h.01M548.3 608.5h.01M536.1 607.3h.01M543.5 607.6h.01M549.4 607.6h.01M550.8 607.9h.01M569.7 587.1h.01M572.6 584.7h.01M568.9 592h.01M558.6 608.5h.01M571.9 607.8h.01M571.4 607.1h.01M571.1 607.9h.01M581.2 584.8h.01M579.5 608.1h.01M576.1 609.6h.01M592.9 584.7h.01M592 607.8h.01M593.1 607.3h.01M601.4 585.2h.01M597.6 586h.01M596.6 590.9h.01M597.5 608.6h.01M600.9 608.5h.01M596.7 605.8h.01M607 607.3h.01M620.3 586.7h.01M629.6 585.8h.01M628.4 584.5h.01M624 606.4h.01M625.9 606.3h.01M626.6 607.4h.01M620.2 608.9h.01M637.5 586.9h.01M640.2 590.9h.01M639.1 606.9h.01M635.6 606.7h.01M644.1 606.3h.01M647.1 587.1h.01M651.8 580.3h.01M656.3 587.4h.01M651.7 607.7h.01M647.8 608.2h.01M656.1 608.4h.01M656.7 607.6h.01M664.6 580.5h.01M669.6 591h.01M670.1 608.4h.01M669.7 609.2h.01M679.9 583.5h.01M680.8 606.8h.01M678 608h.01" stroke="#e4e4e4" stroke-opacity=".55" stroke-width="1.1" stroke-linecap="round" fill="none"/>
<path d="M674.9 600.4H683.9" stroke="#ebebeb" stroke-width="1.5"/>
</g>
<path d="M22.3 625.4H24.2M22.3 559H24.2M22.3 519.2H24.2M22.3 492.6H24.2M22.3 426.2H24.2M22.3 359.8H24.2M52.6 664.9v1.9M108.7 664.9v1.9M159.5 664.9v1.9M203.8 664.9v1.9M246.2 664.9v1.9M286.5 664.9v1.9M324.4 664.9v1.9M360 664.9v1.9M392.3 664.9v1.9M423.2 664.9v1.9M454.3 664.9v1.9M485 664.9v1.9M513.3 664.9v1.9M539 664.9v1.9M562.7 664.9v1.9M585 664.9v1.9M605 664.9v1.9M623.4 664.9v1.9M639.5 664.9v1.9M653.5 664.9v1.9M666.6 664.9v1.9M677.9 664.9v1.9" stroke="#333" stroke-width=".75" fill="none"/>
<g class="tk"><text x="20.8" y="627.6" text-anchor="end">0</text><text x="20.8" y="561.2" text-anchor="end">5</text><text x="20.8" y="521.4" text-anchor="end">8</text><text x="20.8" y="494.8" text-anchor="end">10</text><text x="20.8" y="428.4" text-anchor="end">15</text><text x="20.8" y="362.0" text-anchor="end">20</text><text x="52.6" y="673.1" text-anchor="middle">1</text><text x="108.7" y="673.1" text-anchor="middle">2</text><text x="159.5" y="673.1" text-anchor="middle">3</text><text x="203.8" y="673.1" text-anchor="middle">4</text><text x="246.2" y="673.1" text-anchor="middle">5</text><text x="286.5" y="673.1" text-anchor="middle">6</text><text x="324.4" y="673.1" text-anchor="middle">7</text><text x="360" y="673.1" text-anchor="middle">8</text><text x="392.3" y="673.1" text-anchor="middle">9</text><text x="423.2" y="673.1" text-anchor="middle">10</text><text x="454.3" y="673.1" text-anchor="middle">11</text><text x="485" y="673.1" text-anchor="middle">12</text><text x="513.3" y="673.1" text-anchor="middle">13</text><text x="539" y="673.1" text-anchor="middle">14</text><text x="562.7" y="673.1" text-anchor="middle">15</text><text x="585" y="673.1" text-anchor="middle">16</text><text x="605" y="673.1" text-anchor="middle">17</text><text x="623.4" y="673.1" text-anchor="middle">18</text><text x="653.5" y="673.1" text-anchor="middle">20</text><text x="677.9" y="673.1" text-anchor="middle">22</text></g>
<text class="ti" x="353.6" y="682.1" text-anchor="middle">Chromosome</text>
<text class="ti" style="font-size:7.6px" transform="translate(9.0 506.4) rotate(-90)" text-anchor="middle">−log<tspan font-size="5.6" dy="1.6">10</tspan><tspan dy="-1.6"> p</tspan></text>
<path d="M118.5 545.7L670.8 652.0M318.2 545.7L670.8 652.0M383.8 545.7L670.8 652.0M408.0 545.7L670.8 652.0M419.4 545.7L670.8 652.0M562.9 545.7L670.8 652.0M606.1 545.7L670.8 652.0" stroke="#0000ff" stroke-width="1.5" fill="none"/>
<path d="M670.9 545.7V652.0" stroke="#ff33ff" stroke-width="2.2" fill="none"/>
<path d="M118.5 509.8L118.5 531.6" stroke="#1a1aff" stroke-width=".7" fill="none"/>
<path d="M318.2 509.8L318.2 531.6" stroke="#1a1aff" stroke-width=".7" fill="none"/>
<path d="M370.7 510.3L383.8 531.6" stroke="#1a1a1a" stroke-width=".7" fill="none"/>
<path d="M402.9 510.3L407.9 531.6" stroke="#1a1a1a" stroke-width=".7" fill="none"/>
<path d="M434.7 510.3L419.3 531.6" stroke="#1a1aff" stroke-width=".7" fill="none"/>
<path d="M562.9 509.8L562.9 531.6" stroke="#1a1a1a" stroke-width=".7" fill="none"/>
<path d="M606.1 509.8L606.1 531.6" stroke="#1a1a1a" stroke-width=".7" fill="none"/>
<g class="bl"><text x="118.0" y="508.8" fill="#1a1aff">IFIH1</text><text x="318.0" y="508.8" fill="#1a1aff">IKZF1</text><text x="370.2" y="508.8" fill="#1a1a1a">DDX58</text><text x="402.9" y="508.8" fill="#1a1a1a">CARD9</text><text x="435.7" y="508.8" fill="#1a1aff">WDFY4</text><text x="562.9" y="508.8" fill="#1a1a1a">CYP19A1</text><text x="606.1" y="508.8" fill="#1a1a1a">NSF</text><text x="670.7" y="663" fill="#1a1a1a">MX1</text></g>
</svg></body></html>
